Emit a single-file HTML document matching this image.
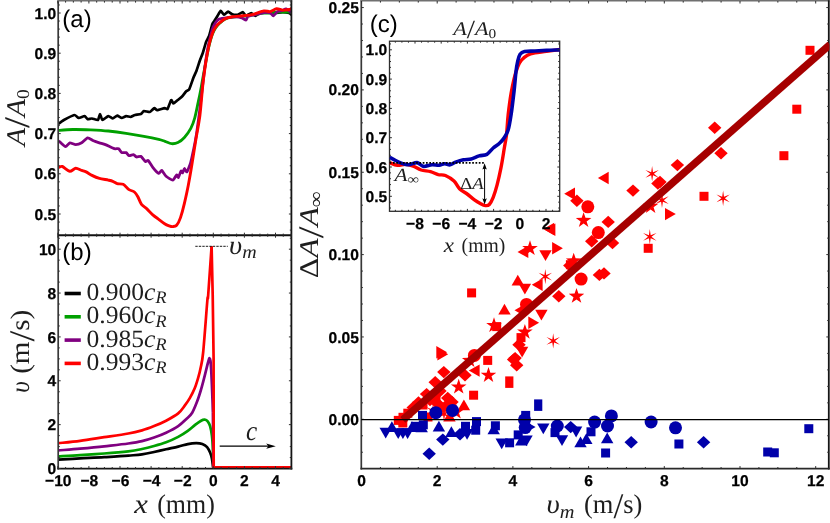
<!DOCTYPE html>
<html><head><meta charset="utf-8"><title>figure</title>
<style>html,body{margin:0;padding:0;background:#fff;}svg{display:block;}text{text-rendering:geometricPrecision;filter:grayscale(1);}</style>
</head><body>
<svg width="830" height="523" viewBox="0 0 830 523">
<rect x="0" y="0" width="830" height="523" fill="#fff"/>
<clipPath id="ca"><rect x="58.2" y="1.0" width="234.0" height="234.2"/></clipPath>
<g clip-path="url(#ca)">
<path d="M58.6 123.9C59.0 123.6 62.6 120.7 63.9 120.0C65.2 119.3 73.1 115.2 74.3 115.0C75.5 114.8 77.8 117.8 78.7 117.9C79.6 118.0 83.9 116.0 84.6 116.1C85.3 116.2 87.0 118.9 87.6 119.1C88.2 119.3 91.1 118.4 92.0 118.5C92.9 118.6 97.3 120.4 98.0 120.0C98.7 119.6 99.6 114.0 100.0 114.0C100.4 114.0 101.7 119.8 102.4 120.0C103.1 120.2 107.4 116.2 108.3 116.1C109.2 116.0 112.1 118.5 112.8 118.5C113.5 118.5 116.5 115.6 117.2 115.6C117.9 115.5 121.0 117.9 121.7 117.9C122.4 117.9 125.4 116.2 126.1 116.1C126.8 116.0 129.9 117.1 130.6 117.0C131.3 116.9 134.1 115.2 135.0 115.0C135.9 114.8 140.2 114.3 140.9 114.0C141.6 113.7 143.2 111.3 143.9 111.1C144.6 110.9 148.9 112.2 149.8 112.0C150.7 111.8 153.7 108.2 154.3 108.1C154.9 107.9 156.3 110.2 157.2 110.2C158.1 110.2 163.7 108.2 164.6 108.1C165.5 108.0 167.1 109.7 167.6 109.0C168.1 108.3 170.6 100.6 171.1 100.1C171.6 99.6 172.9 103.4 173.4 103.5C173.9 103.6 175.9 101.6 176.6 101.0C177.3 100.4 181.0 97.6 181.8 96.8C182.6 96.0 185.4 92.1 186.0 91.5C186.6 90.9 188.6 90.5 189.2 89.4C189.8 88.3 192.8 79.4 193.4 77.8C194.0 76.2 196.1 71.9 196.6 70.5C197.1 69.1 199.2 62.5 199.7 61.0C200.2 59.5 202.4 54.2 202.9 52.6C203.4 51.0 205.5 43.5 206.0 42.1C206.5 40.7 208.7 37.3 209.2 35.8C209.7 34.3 211.9 25.4 212.3 24.2C212.7 23.0 214.0 21.7 214.4 21.0C214.8 20.3 217.1 16.6 217.6 15.8C218.1 15.0 220.2 11.0 220.7 10.9C221.2 10.8 223.3 14.6 223.9 14.7C224.5 14.8 227.4 11.6 228.1 11.6C228.8 11.6 231.5 14.0 232.3 14.3C233.1 14.6 236.7 14.9 237.6 14.7C238.5 14.5 242.1 12.1 242.8 12.2C243.5 12.3 245.3 15.7 246.0 15.8C246.7 15.9 250.4 13.0 251.2 13.0C252.0 13.0 254.7 15.8 255.4 15.8C256.1 15.8 258.8 13.3 259.7 13.0C260.6 12.7 264.8 12.2 266.0 12.2C267.2 12.2 273.0 13.0 274.4 13.0C275.8 13.0 281.6 12.2 282.8 12.2C284.0 12.2 288.4 12.8 289.1 13.0C289.8 13.2 291.3 14.6 291.5 14.7" fill="none" stroke="#000" stroke-width="2.7" stroke-linejoin="round" stroke-linecap="butt" />
<path d="M58.6 130.4C61.0 130.2 67.5 129.6 72.8 129.5C78.1 129.4 84.7 129.6 90.6 129.8C96.5 130.1 102.4 130.4 108.3 131.0C114.2 131.6 120.2 132.4 126.1 133.3C132.0 134.2 138.5 135.3 143.9 136.3C149.3 137.3 155.2 138.5 158.7 139.3C162.2 140.1 162.9 140.6 165.0 141.3C167.1 142.0 169.3 143.5 171.5 143.7C173.7 143.9 175.8 143.6 177.9 142.6C180.1 141.6 182.2 139.9 184.4 137.5C186.6 135.1 189.1 131.6 190.8 128.4C192.5 125.2 193.5 122.4 194.7 118.1C195.9 113.8 197.2 106.9 198.1 102.6C199.0 98.2 199.5 96.4 200.3 92.0C201.2 87.6 202.2 81.3 203.2 76.0C204.2 70.7 205.2 65.2 206.2 60.0C207.2 54.8 208.3 48.8 209.4 44.5C210.5 40.2 211.4 36.8 212.5 34.0C213.6 31.2 214.5 29.4 215.7 27.6C216.9 25.8 218.4 24.4 219.9 23.0C221.4 21.6 222.8 20.2 224.9 19.2C227.0 18.2 229.3 17.7 232.3 17.2C235.3 16.7 239.3 16.6 242.8 16.2C246.3 15.8 249.8 15.3 253.3 14.8C256.8 14.3 261.1 13.5 263.9 13.2C266.7 12.9 268.1 13.2 270.2 13.0C272.3 12.8 274.4 12.3 276.5 12.2C278.6 12.1 280.7 12.2 282.8 12.2C284.9 12.2 287.7 12.0 289.1 12.0C290.6 12.0 291.1 12.3 291.5 12.4" fill="none" stroke="#00a000" stroke-width="2.8" stroke-linejoin="round" stroke-linecap="butt" />
<path d="M58.6 140.7C59.3 141.3 64.3 146.5 65.4 146.7C66.5 146.9 68.8 143.0 69.8 142.8C70.8 142.6 74.5 144.6 75.7 144.6C76.9 144.6 80.5 143.5 81.7 142.8C82.9 142.1 86.4 138.0 87.6 137.8C88.8 137.6 92.3 140.2 93.5 140.7C94.7 141.2 98.2 142.4 99.4 142.8C100.6 143.2 103.9 144.0 105.4 144.6C106.9 145.2 113.0 148.3 114.3 148.7C115.6 149.1 118.0 148.3 118.7 148.7C119.4 149.1 121.0 152.2 121.7 152.6C122.4 153.0 125.4 152.3 126.1 152.6C126.8 152.9 128.3 155.4 129.0 155.6C129.7 155.8 132.8 154.6 133.5 154.7C134.2 154.8 135.8 156.8 136.5 157.0C137.2 157.2 140.0 156.0 140.9 156.4C141.8 156.8 144.7 161.1 145.4 161.5C146.1 161.9 147.6 160.0 148.3 160.6C149.0 161.2 151.8 166.1 152.8 167.4C153.8 168.7 157.8 173.0 158.7 173.3C159.6 173.6 161.0 170.1 161.7 170.4C162.4 170.7 165.0 175.3 166.1 176.3C167.2 177.3 171.8 180.2 172.8 180.1C173.9 180.0 176.0 175.2 176.6 174.9C177.2 174.6 178.0 177.9 178.4 177.5C178.8 177.1 180.6 171.5 181.0 171.0C181.4 170.5 182.3 173.2 182.6 172.9C182.9 172.7 184.0 168.6 184.4 168.5C184.8 168.4 186.4 172.5 187.0 171.8C187.6 171.2 190.2 164.2 190.8 162.0C191.5 159.8 192.9 152.8 193.5 150.0C194.1 147.2 195.9 137.8 196.5 134.0C197.1 130.2 198.9 116.6 199.5 112.0C200.1 107.4 201.7 92.8 202.3 88.0C202.9 83.2 204.7 68.3 205.3 64.0C205.9 59.7 207.8 47.9 208.4 45.0C209.0 42.1 210.3 36.8 210.8 35.0C211.3 33.2 212.2 28.9 213.0 27.3C213.8 25.7 217.3 20.3 218.6 19.4C219.9 18.5 224.2 18.2 226.0 17.9C227.8 17.6 234.9 16.8 236.5 16.8C238.1 16.8 240.9 17.6 241.8 17.9C242.8 18.2 245.4 20.1 246.0 20.0C246.6 19.9 247.2 16.9 248.1 16.4C249.0 15.9 253.8 15.1 255.4 14.7C257.0 14.3 262.4 12.8 263.9 12.6C265.4 12.4 269.3 12.7 270.2 13.0C271.1 13.3 272.6 15.9 273.3 15.8C274.0 15.7 276.6 12.1 277.5 11.6C278.4 11.1 281.9 10.8 282.8 10.5C283.7 10.2 285.1 8.6 286.0 8.8C286.9 9.0 290.9 12.2 291.5 12.6" fill="none" stroke="#800080" stroke-width="2.8" stroke-linejoin="round" stroke-linecap="butt" />
<path d="M58.6 167.4C59.1 167.3 60.9 166.0 62.4 166.5C63.9 167.0 68.0 171.1 69.8 171.3C71.6 171.5 74.1 168.4 75.7 168.3C77.3 168.2 80.3 169.9 81.7 170.4C83.1 170.9 84.7 171.2 86.1 171.9C87.5 172.6 90.2 174.5 92.0 175.4C93.8 176.3 97.2 177.8 99.4 178.4C101.6 179.0 106.5 179.7 108.3 180.1C110.1 180.5 111.6 180.8 112.8 181.3C114.0 181.8 115.8 183.3 117.2 183.7C118.6 184.1 121.5 183.5 123.1 184.3C124.7 185.1 127.5 188.6 129.0 189.6C130.5 190.6 133.2 191.0 134.4 192.0C135.6 193.0 137.1 195.3 138.0 197.0C138.9 198.7 140.3 202.8 141.5 204.4C142.7 206.0 145.4 207.5 146.9 208.9C148.4 210.3 151.2 213.4 152.8 214.8C154.4 216.2 157.1 218.1 158.7 219.3C160.3 220.5 163.2 222.8 164.6 223.7C166.0 224.6 168.0 225.4 169.1 225.8C170.2 226.2 171.8 226.7 172.8 226.6C173.8 226.5 175.6 226.5 176.6 225.3C177.6 224.1 179.5 220.5 180.5 217.6C181.5 214.7 183.4 207.7 184.4 203.4C185.4 199.1 187.3 190.6 188.3 185.3C189.3 180.0 191.1 169.5 192.1 163.3C193.1 157.1 195.0 145.2 196.0 138.8C197.0 132.4 199.0 122.8 199.9 115.5C200.8 108.2 202.1 91.4 202.9 84.1C203.7 76.8 205.2 66.3 206.0 61.0C206.8 55.7 208.4 47.8 209.2 44.2C210.0 40.6 211.5 36.0 212.3 33.7C213.1 31.4 214.5 28.8 215.5 27.3C216.5 25.8 218.4 23.8 219.7 22.7C221.0 21.6 223.2 19.7 224.9 18.9C226.6 18.1 229.9 17.2 232.3 16.8C234.7 16.4 240.0 16.1 242.8 15.8C245.6 15.5 250.5 15.0 253.3 14.3C256.1 13.6 261.6 11.3 263.9 10.9C266.2 10.5 268.5 11.9 270.2 11.6C271.9 11.3 274.8 9.0 276.5 8.8C278.2 8.6 281.1 10.0 282.8 10.1C284.5 10.2 287.9 9.7 289.1 9.5C290.3 9.3 291.2 8.5 291.5 8.4" fill="none" stroke="#ff0000" stroke-width="2.9" stroke-linejoin="round" stroke-linecap="butt" />
</g>
<clipPath id="cb"><rect x="58.2" y="235.2" width="234.0" height="234.4"/></clipPath>
<g clip-path="url(#cb)">
<path d="M58.4 459.6C62.0 459.4 72.5 458.8 80.1 458.4C87.7 458.0 96.2 457.7 104.2 457.2C112.2 456.7 122.0 456.1 128.3 455.6C134.6 455.1 137.7 455.0 142.0 454.4C146.3 453.8 150.1 452.9 154.1 452.0C158.1 451.1 162.1 450.1 166.1 449.2C170.1 448.3 174.6 447.5 178.2 446.6C181.8 445.8 184.8 444.7 187.8 444.1C190.8 443.5 193.9 443.2 196.3 443.2C198.7 443.2 200.5 443.4 202.3 444.1C204.1 444.8 205.8 445.8 207.1 447.2C208.4 448.6 209.3 450.7 210.1 452.6C210.9 454.5 211.4 456.1 211.9 458.6C212.4 461.1 212.9 465.9 213.1 467.4" fill="none" stroke="#000" stroke-width="2.7" stroke-linejoin="round" stroke-linecap="butt" />
<polyline points="213.1,467.4 291.0,467.4" fill="none" stroke="#000" stroke-width="2.7" stroke-linejoin="round" stroke-linecap="butt" />
<path d="M58.4 456.4C62.0 456.2 72.5 455.7 80.1 455.2C87.7 454.7 96.2 454.1 104.2 453.5C112.2 452.9 122.0 452.1 128.3 451.4C134.6 450.6 137.7 449.9 142.0 449.0C146.3 448.1 150.1 447.1 154.1 446.0C158.1 444.9 162.1 443.8 166.1 442.3C170.1 440.8 174.6 438.8 178.2 436.9C181.8 435.0 185.0 432.9 187.8 430.9C190.6 428.9 192.9 426.6 195.1 424.9C197.3 423.2 199.5 421.6 201.1 420.7C202.7 419.8 203.6 419.6 204.7 419.7C205.8 419.8 206.8 420.2 207.7 421.3C208.6 422.4 209.4 423.7 210.1 426.1C210.8 428.5 211.4 431.7 211.9 435.7C212.4 439.7 212.7 444.9 212.9 450.2C213.2 455.5 213.3 464.5 213.4 467.4" fill="none" stroke="#00a000" stroke-width="2.7" stroke-linejoin="round" stroke-linecap="butt" />
<polyline points="213.4,467.4 291.0,467.4" fill="none" stroke="#00a000" stroke-width="2.7" stroke-linejoin="round" stroke-linecap="butt" />
<path d="M58.4 450.4C62.0 450.1 72.5 449.4 80.1 448.7C87.7 448.0 96.2 447.2 104.2 446.3C112.2 445.4 122.0 444.4 128.3 443.5C134.6 442.6 137.7 442.1 142.0 441.1C146.3 440.1 150.1 438.9 154.1 437.5C158.1 436.1 162.1 434.6 166.1 432.7C170.1 430.8 174.8 428.4 178.2 426.1C181.6 423.8 184.3 421.0 186.6 418.8C188.9 416.6 190.5 415.5 192.2 412.7C193.9 409.9 195.6 405.4 197.0 401.8C198.4 398.2 199.5 394.6 200.6 391.0C201.7 387.4 202.6 383.9 203.6 380.1C204.6 376.3 205.8 371.4 206.6 368.1C207.4 364.8 208.1 362.1 208.6 360.5C209.1 358.9 209.3 358.1 209.6 358.2C209.9 358.3 210.2 358.4 210.5 361.0C210.8 363.6 211.1 367.9 211.4 374.1C211.7 380.3 212.2 391.8 212.4 398.2C212.7 404.6 212.8 410.3 212.9 412.7" fill="none" stroke="#800080" stroke-width="2.7" stroke-linejoin="round" stroke-linecap="butt" />
<polyline points="212.9,412.7 213.5,467.4 291.0,467.4" fill="none" stroke="#800080" stroke-width="2.7" stroke-linejoin="round" stroke-linecap="butt" />
<path d="M58.4 443.2C62.0 442.8 72.5 441.8 80.1 440.8C87.7 439.8 96.2 438.4 104.2 437.2C112.2 436.0 122.0 434.6 128.3 433.5C134.6 432.4 137.7 431.6 142.0 430.4C146.3 429.2 150.1 427.7 154.1 426.1C158.1 424.5 162.1 422.8 166.1 420.7C170.1 418.6 175.1 415.9 178.2 413.4C181.3 410.8 183.0 407.9 184.9 405.4C186.8 402.9 188.2 401.0 189.8 398.2C191.4 395.4 193.2 392.0 194.6 388.6C196.0 385.2 197.2 381.1 198.2 377.7C199.2 374.3 199.8 372.4 200.6 368.1C201.4 363.8 202.1 363.2 203.2 352.0C204.3 340.8 206.5 310.5 207.3 301.0C208.1 291.5 207.5 304.1 208.2 295.0C208.9 285.9 211.0 254.4 211.6 246.3" fill="none" stroke="#ff0000" stroke-width="2.7" stroke-linejoin="round" stroke-linecap="butt" />
<polyline points="211.6,246.3 212.7,295.0 213.6,358.0 213.7,467.4 291.5,467.4" fill="none" stroke="#ff0000" stroke-width="2.7" stroke-linejoin="round" stroke-linecap="butt" stroke-miterlimit="10"/>
</g>
<line x1="58.20" y1="0.20" x2="58.20" y2="469.50" stroke="#383838" stroke-width="1.7" />
<line x1="57.40" y1="0.75" x2="292.20" y2="0.75" stroke="#707070" stroke-width="1.4" />
<line x1="291.40" y1="0.20" x2="291.40" y2="469.50" stroke="#151515" stroke-width="1.8" />
<line x1="57.40" y1="468.60" x2="292.30" y2="468.60" stroke="#151515" stroke-width="1.8" />
<line x1="58.20" y1="235.20" x2="291.40" y2="235.20" stroke="#111" stroke-width="1.9" />
<line x1="57.80" y1="1.00" x2="57.80" y2="3.50" stroke="#2e2e2e" stroke-width="1.0" />
<line x1="88.90" y1="1.00" x2="88.90" y2="3.50" stroke="#2e2e2e" stroke-width="1.0" />
<line x1="120.00" y1="1.00" x2="120.00" y2="3.50" stroke="#2e2e2e" stroke-width="1.0" />
<line x1="151.10" y1="1.00" x2="151.10" y2="3.50" stroke="#2e2e2e" stroke-width="1.0" />
<line x1="182.20" y1="1.00" x2="182.20" y2="3.50" stroke="#2e2e2e" stroke-width="1.0" />
<line x1="213.30" y1="1.00" x2="213.30" y2="3.50" stroke="#2e2e2e" stroke-width="1.0" />
<line x1="244.40" y1="1.00" x2="244.40" y2="3.50" stroke="#2e2e2e" stroke-width="1.0" />
<line x1="275.50" y1="1.00" x2="275.50" y2="3.50" stroke="#2e2e2e" stroke-width="1.0" />
<line x1="65.58" y1="1.00" x2="65.58" y2="2.60" stroke="#2e2e2e" stroke-width="1.0" />
<line x1="73.35" y1="1.00" x2="73.35" y2="2.60" stroke="#2e2e2e" stroke-width="1.0" />
<line x1="81.12" y1="1.00" x2="81.12" y2="2.60" stroke="#2e2e2e" stroke-width="1.0" />
<line x1="96.68" y1="1.00" x2="96.68" y2="2.60" stroke="#2e2e2e" stroke-width="1.0" />
<line x1="104.45" y1="1.00" x2="104.45" y2="2.60" stroke="#2e2e2e" stroke-width="1.0" />
<line x1="112.23" y1="1.00" x2="112.23" y2="2.60" stroke="#2e2e2e" stroke-width="1.0" />
<line x1="127.78" y1="1.00" x2="127.78" y2="2.60" stroke="#2e2e2e" stroke-width="1.0" />
<line x1="135.55" y1="1.00" x2="135.55" y2="2.60" stroke="#2e2e2e" stroke-width="1.0" />
<line x1="143.32" y1="1.00" x2="143.32" y2="2.60" stroke="#2e2e2e" stroke-width="1.0" />
<line x1="158.88" y1="1.00" x2="158.88" y2="2.60" stroke="#2e2e2e" stroke-width="1.0" />
<line x1="166.65" y1="1.00" x2="166.65" y2="2.60" stroke="#2e2e2e" stroke-width="1.0" />
<line x1="174.43" y1="1.00" x2="174.43" y2="2.60" stroke="#2e2e2e" stroke-width="1.0" />
<line x1="189.98" y1="1.00" x2="189.98" y2="2.60" stroke="#2e2e2e" stroke-width="1.0" />
<line x1="197.75" y1="1.00" x2="197.75" y2="2.60" stroke="#2e2e2e" stroke-width="1.0" />
<line x1="205.53" y1="1.00" x2="205.53" y2="2.60" stroke="#2e2e2e" stroke-width="1.0" />
<line x1="221.08" y1="1.00" x2="221.08" y2="2.60" stroke="#2e2e2e" stroke-width="1.0" />
<line x1="228.85" y1="1.00" x2="228.85" y2="2.60" stroke="#2e2e2e" stroke-width="1.0" />
<line x1="236.62" y1="1.00" x2="236.62" y2="2.60" stroke="#2e2e2e" stroke-width="1.0" />
<line x1="252.18" y1="1.00" x2="252.18" y2="2.60" stroke="#2e2e2e" stroke-width="1.0" />
<line x1="259.95" y1="1.00" x2="259.95" y2="2.60" stroke="#2e2e2e" stroke-width="1.0" />
<line x1="267.73" y1="1.00" x2="267.73" y2="2.60" stroke="#2e2e2e" stroke-width="1.0" />
<line x1="283.28" y1="1.00" x2="283.28" y2="2.60" stroke="#2e2e2e" stroke-width="1.0" />
<line x1="291.05" y1="1.00" x2="291.05" y2="2.60" stroke="#2e2e2e" stroke-width="1.0" />
<line x1="57.80" y1="235.20" x2="57.80" y2="232.70" stroke="#2e2e2e" stroke-width="1.0" />
<line x1="88.90" y1="235.20" x2="88.90" y2="232.70" stroke="#2e2e2e" stroke-width="1.0" />
<line x1="120.00" y1="235.20" x2="120.00" y2="232.70" stroke="#2e2e2e" stroke-width="1.0" />
<line x1="151.10" y1="235.20" x2="151.10" y2="232.70" stroke="#2e2e2e" stroke-width="1.0" />
<line x1="182.20" y1="235.20" x2="182.20" y2="232.70" stroke="#2e2e2e" stroke-width="1.0" />
<line x1="213.30" y1="235.20" x2="213.30" y2="232.70" stroke="#2e2e2e" stroke-width="1.0" />
<line x1="244.40" y1="235.20" x2="244.40" y2="232.70" stroke="#2e2e2e" stroke-width="1.0" />
<line x1="275.50" y1="235.20" x2="275.50" y2="232.70" stroke="#2e2e2e" stroke-width="1.0" />
<line x1="65.58" y1="235.20" x2="65.58" y2="233.60" stroke="#2e2e2e" stroke-width="1.0" />
<line x1="73.35" y1="235.20" x2="73.35" y2="233.60" stroke="#2e2e2e" stroke-width="1.0" />
<line x1="81.12" y1="235.20" x2="81.12" y2="233.60" stroke="#2e2e2e" stroke-width="1.0" />
<line x1="96.68" y1="235.20" x2="96.68" y2="233.60" stroke="#2e2e2e" stroke-width="1.0" />
<line x1="104.45" y1="235.20" x2="104.45" y2="233.60" stroke="#2e2e2e" stroke-width="1.0" />
<line x1="112.23" y1="235.20" x2="112.23" y2="233.60" stroke="#2e2e2e" stroke-width="1.0" />
<line x1="127.78" y1="235.20" x2="127.78" y2="233.60" stroke="#2e2e2e" stroke-width="1.0" />
<line x1="135.55" y1="235.20" x2="135.55" y2="233.60" stroke="#2e2e2e" stroke-width="1.0" />
<line x1="143.32" y1="235.20" x2="143.32" y2="233.60" stroke="#2e2e2e" stroke-width="1.0" />
<line x1="158.88" y1="235.20" x2="158.88" y2="233.60" stroke="#2e2e2e" stroke-width="1.0" />
<line x1="166.65" y1="235.20" x2="166.65" y2="233.60" stroke="#2e2e2e" stroke-width="1.0" />
<line x1="174.43" y1="235.20" x2="174.43" y2="233.60" stroke="#2e2e2e" stroke-width="1.0" />
<line x1="189.98" y1="235.20" x2="189.98" y2="233.60" stroke="#2e2e2e" stroke-width="1.0" />
<line x1="197.75" y1="235.20" x2="197.75" y2="233.60" stroke="#2e2e2e" stroke-width="1.0" />
<line x1="205.53" y1="235.20" x2="205.53" y2="233.60" stroke="#2e2e2e" stroke-width="1.0" />
<line x1="221.08" y1="235.20" x2="221.08" y2="233.60" stroke="#2e2e2e" stroke-width="1.0" />
<line x1="228.85" y1="235.20" x2="228.85" y2="233.60" stroke="#2e2e2e" stroke-width="1.0" />
<line x1="236.62" y1="235.20" x2="236.62" y2="233.60" stroke="#2e2e2e" stroke-width="1.0" />
<line x1="252.18" y1="235.20" x2="252.18" y2="233.60" stroke="#2e2e2e" stroke-width="1.0" />
<line x1="259.95" y1="235.20" x2="259.95" y2="233.60" stroke="#2e2e2e" stroke-width="1.0" />
<line x1="267.73" y1="235.20" x2="267.73" y2="233.60" stroke="#2e2e2e" stroke-width="1.0" />
<line x1="283.28" y1="235.20" x2="283.28" y2="233.60" stroke="#2e2e2e" stroke-width="1.0" />
<line x1="291.05" y1="235.20" x2="291.05" y2="233.60" stroke="#2e2e2e" stroke-width="1.0" />
<line x1="57.80" y1="235.20" x2="57.80" y2="237.70" stroke="#2e2e2e" stroke-width="1.0" />
<line x1="88.90" y1="235.20" x2="88.90" y2="237.70" stroke="#2e2e2e" stroke-width="1.0" />
<line x1="120.00" y1="235.20" x2="120.00" y2="237.70" stroke="#2e2e2e" stroke-width="1.0" />
<line x1="151.10" y1="235.20" x2="151.10" y2="237.70" stroke="#2e2e2e" stroke-width="1.0" />
<line x1="182.20" y1="235.20" x2="182.20" y2="237.70" stroke="#2e2e2e" stroke-width="1.0" />
<line x1="213.30" y1="235.20" x2="213.30" y2="237.70" stroke="#2e2e2e" stroke-width="1.0" />
<line x1="244.40" y1="235.20" x2="244.40" y2="237.70" stroke="#2e2e2e" stroke-width="1.0" />
<line x1="275.50" y1="235.20" x2="275.50" y2="237.70" stroke="#2e2e2e" stroke-width="1.0" />
<line x1="65.58" y1="235.20" x2="65.58" y2="236.80" stroke="#2e2e2e" stroke-width="1.0" />
<line x1="73.35" y1="235.20" x2="73.35" y2="236.80" stroke="#2e2e2e" stroke-width="1.0" />
<line x1="81.12" y1="235.20" x2="81.12" y2="236.80" stroke="#2e2e2e" stroke-width="1.0" />
<line x1="96.68" y1="235.20" x2="96.68" y2="236.80" stroke="#2e2e2e" stroke-width="1.0" />
<line x1="104.45" y1="235.20" x2="104.45" y2="236.80" stroke="#2e2e2e" stroke-width="1.0" />
<line x1="112.23" y1="235.20" x2="112.23" y2="236.80" stroke="#2e2e2e" stroke-width="1.0" />
<line x1="127.78" y1="235.20" x2="127.78" y2="236.80" stroke="#2e2e2e" stroke-width="1.0" />
<line x1="135.55" y1="235.20" x2="135.55" y2="236.80" stroke="#2e2e2e" stroke-width="1.0" />
<line x1="143.32" y1="235.20" x2="143.32" y2="236.80" stroke="#2e2e2e" stroke-width="1.0" />
<line x1="158.88" y1="235.20" x2="158.88" y2="236.80" stroke="#2e2e2e" stroke-width="1.0" />
<line x1="166.65" y1="235.20" x2="166.65" y2="236.80" stroke="#2e2e2e" stroke-width="1.0" />
<line x1="174.43" y1="235.20" x2="174.43" y2="236.80" stroke="#2e2e2e" stroke-width="1.0" />
<line x1="189.98" y1="235.20" x2="189.98" y2="236.80" stroke="#2e2e2e" stroke-width="1.0" />
<line x1="197.75" y1="235.20" x2="197.75" y2="236.80" stroke="#2e2e2e" stroke-width="1.0" />
<line x1="205.53" y1="235.20" x2="205.53" y2="236.80" stroke="#2e2e2e" stroke-width="1.0" />
<line x1="221.08" y1="235.20" x2="221.08" y2="236.80" stroke="#2e2e2e" stroke-width="1.0" />
<line x1="228.85" y1="235.20" x2="228.85" y2="236.80" stroke="#2e2e2e" stroke-width="1.0" />
<line x1="236.62" y1="235.20" x2="236.62" y2="236.80" stroke="#2e2e2e" stroke-width="1.0" />
<line x1="252.18" y1="235.20" x2="252.18" y2="236.80" stroke="#2e2e2e" stroke-width="1.0" />
<line x1="259.95" y1="235.20" x2="259.95" y2="236.80" stroke="#2e2e2e" stroke-width="1.0" />
<line x1="267.73" y1="235.20" x2="267.73" y2="236.80" stroke="#2e2e2e" stroke-width="1.0" />
<line x1="283.28" y1="235.20" x2="283.28" y2="236.80" stroke="#2e2e2e" stroke-width="1.0" />
<line x1="291.05" y1="235.20" x2="291.05" y2="236.80" stroke="#2e2e2e" stroke-width="1.0" />
<line x1="57.80" y1="468.60" x2="57.80" y2="466.10" stroke="#2e2e2e" stroke-width="1.0" />
<line x1="88.90" y1="468.60" x2="88.90" y2="466.10" stroke="#2e2e2e" stroke-width="1.0" />
<line x1="120.00" y1="468.60" x2="120.00" y2="466.10" stroke="#2e2e2e" stroke-width="1.0" />
<line x1="151.10" y1="468.60" x2="151.10" y2="466.10" stroke="#2e2e2e" stroke-width="1.0" />
<line x1="182.20" y1="468.60" x2="182.20" y2="466.10" stroke="#2e2e2e" stroke-width="1.0" />
<line x1="213.30" y1="468.60" x2="213.30" y2="466.10" stroke="#2e2e2e" stroke-width="1.0" />
<line x1="244.40" y1="468.60" x2="244.40" y2="466.10" stroke="#2e2e2e" stroke-width="1.0" />
<line x1="275.50" y1="468.60" x2="275.50" y2="466.10" stroke="#2e2e2e" stroke-width="1.0" />
<line x1="65.58" y1="468.60" x2="65.58" y2="467.00" stroke="#2e2e2e" stroke-width="1.0" />
<line x1="73.35" y1="468.60" x2="73.35" y2="467.00" stroke="#2e2e2e" stroke-width="1.0" />
<line x1="81.12" y1="468.60" x2="81.12" y2="467.00" stroke="#2e2e2e" stroke-width="1.0" />
<line x1="96.68" y1="468.60" x2="96.68" y2="467.00" stroke="#2e2e2e" stroke-width="1.0" />
<line x1="104.45" y1="468.60" x2="104.45" y2="467.00" stroke="#2e2e2e" stroke-width="1.0" />
<line x1="112.23" y1="468.60" x2="112.23" y2="467.00" stroke="#2e2e2e" stroke-width="1.0" />
<line x1="127.78" y1="468.60" x2="127.78" y2="467.00" stroke="#2e2e2e" stroke-width="1.0" />
<line x1="135.55" y1="468.60" x2="135.55" y2="467.00" stroke="#2e2e2e" stroke-width="1.0" />
<line x1="143.32" y1="468.60" x2="143.32" y2="467.00" stroke="#2e2e2e" stroke-width="1.0" />
<line x1="158.88" y1="468.60" x2="158.88" y2="467.00" stroke="#2e2e2e" stroke-width="1.0" />
<line x1="166.65" y1="468.60" x2="166.65" y2="467.00" stroke="#2e2e2e" stroke-width="1.0" />
<line x1="174.43" y1="468.60" x2="174.43" y2="467.00" stroke="#2e2e2e" stroke-width="1.0" />
<line x1="189.98" y1="468.60" x2="189.98" y2="467.00" stroke="#2e2e2e" stroke-width="1.0" />
<line x1="197.75" y1="468.60" x2="197.75" y2="467.00" stroke="#2e2e2e" stroke-width="1.0" />
<line x1="205.53" y1="468.60" x2="205.53" y2="467.00" stroke="#2e2e2e" stroke-width="1.0" />
<line x1="221.08" y1="468.60" x2="221.08" y2="467.00" stroke="#2e2e2e" stroke-width="1.0" />
<line x1="228.85" y1="468.60" x2="228.85" y2="467.00" stroke="#2e2e2e" stroke-width="1.0" />
<line x1="236.62" y1="468.60" x2="236.62" y2="467.00" stroke="#2e2e2e" stroke-width="1.0" />
<line x1="252.18" y1="468.60" x2="252.18" y2="467.00" stroke="#2e2e2e" stroke-width="1.0" />
<line x1="259.95" y1="468.60" x2="259.95" y2="467.00" stroke="#2e2e2e" stroke-width="1.0" />
<line x1="267.73" y1="468.60" x2="267.73" y2="467.00" stroke="#2e2e2e" stroke-width="1.0" />
<line x1="283.28" y1="468.60" x2="283.28" y2="467.00" stroke="#2e2e2e" stroke-width="1.0" />
<line x1="291.05" y1="468.60" x2="291.05" y2="467.00" stroke="#2e2e2e" stroke-width="1.0" />
<line x1="58.20" y1="214.00" x2="60.70" y2="214.00" stroke="#2e2e2e" stroke-width="1.0" />
<line x1="58.20" y1="173.80" x2="60.70" y2="173.80" stroke="#2e2e2e" stroke-width="1.0" />
<line x1="58.20" y1="133.60" x2="60.70" y2="133.60" stroke="#2e2e2e" stroke-width="1.0" />
<line x1="58.20" y1="93.40" x2="60.70" y2="93.40" stroke="#2e2e2e" stroke-width="1.0" />
<line x1="58.20" y1="53.20" x2="60.70" y2="53.20" stroke="#2e2e2e" stroke-width="1.0" />
<line x1="58.20" y1="13.00" x2="60.70" y2="13.00" stroke="#2e2e2e" stroke-width="1.0" />
<line x1="58.20" y1="230.08" x2="59.80" y2="230.08" stroke="#2e2e2e" stroke-width="1.0" />
<line x1="58.20" y1="222.04" x2="59.80" y2="222.04" stroke="#2e2e2e" stroke-width="1.0" />
<line x1="58.20" y1="205.96" x2="59.80" y2="205.96" stroke="#2e2e2e" stroke-width="1.0" />
<line x1="58.20" y1="197.92" x2="59.80" y2="197.92" stroke="#2e2e2e" stroke-width="1.0" />
<line x1="58.20" y1="189.88" x2="59.80" y2="189.88" stroke="#2e2e2e" stroke-width="1.0" />
<line x1="58.20" y1="181.84" x2="59.80" y2="181.84" stroke="#2e2e2e" stroke-width="1.0" />
<line x1="58.20" y1="165.76" x2="59.80" y2="165.76" stroke="#2e2e2e" stroke-width="1.0" />
<line x1="58.20" y1="157.72" x2="59.80" y2="157.72" stroke="#2e2e2e" stroke-width="1.0" />
<line x1="58.20" y1="149.68" x2="59.80" y2="149.68" stroke="#2e2e2e" stroke-width="1.0" />
<line x1="58.20" y1="141.64" x2="59.80" y2="141.64" stroke="#2e2e2e" stroke-width="1.0" />
<line x1="58.20" y1="125.56" x2="59.80" y2="125.56" stroke="#2e2e2e" stroke-width="1.0" />
<line x1="58.20" y1="117.52" x2="59.80" y2="117.52" stroke="#2e2e2e" stroke-width="1.0" />
<line x1="58.20" y1="109.48" x2="59.80" y2="109.48" stroke="#2e2e2e" stroke-width="1.0" />
<line x1="58.20" y1="101.44" x2="59.80" y2="101.44" stroke="#2e2e2e" stroke-width="1.0" />
<line x1="58.20" y1="85.36" x2="59.80" y2="85.36" stroke="#2e2e2e" stroke-width="1.0" />
<line x1="58.20" y1="77.32" x2="59.80" y2="77.32" stroke="#2e2e2e" stroke-width="1.0" />
<line x1="58.20" y1="69.28" x2="59.80" y2="69.28" stroke="#2e2e2e" stroke-width="1.0" />
<line x1="58.20" y1="61.24" x2="59.80" y2="61.24" stroke="#2e2e2e" stroke-width="1.0" />
<line x1="58.20" y1="45.16" x2="59.80" y2="45.16" stroke="#2e2e2e" stroke-width="1.0" />
<line x1="58.20" y1="37.12" x2="59.80" y2="37.12" stroke="#2e2e2e" stroke-width="1.0" />
<line x1="58.20" y1="29.08" x2="59.80" y2="29.08" stroke="#2e2e2e" stroke-width="1.0" />
<line x1="58.20" y1="21.04" x2="59.80" y2="21.04" stroke="#2e2e2e" stroke-width="1.0" />
<line x1="58.20" y1="4.96" x2="59.80" y2="4.96" stroke="#2e2e2e" stroke-width="1.0" />
<line x1="291.40" y1="214.00" x2="288.90" y2="214.00" stroke="#2e2e2e" stroke-width="1.0" />
<line x1="291.40" y1="173.80" x2="288.90" y2="173.80" stroke="#2e2e2e" stroke-width="1.0" />
<line x1="291.40" y1="133.60" x2="288.90" y2="133.60" stroke="#2e2e2e" stroke-width="1.0" />
<line x1="291.40" y1="93.40" x2="288.90" y2="93.40" stroke="#2e2e2e" stroke-width="1.0" />
<line x1="291.40" y1="53.20" x2="288.90" y2="53.20" stroke="#2e2e2e" stroke-width="1.0" />
<line x1="291.40" y1="13.00" x2="288.90" y2="13.00" stroke="#2e2e2e" stroke-width="1.0" />
<line x1="291.40" y1="230.08" x2="289.80" y2="230.08" stroke="#2e2e2e" stroke-width="1.0" />
<line x1="291.40" y1="222.04" x2="289.80" y2="222.04" stroke="#2e2e2e" stroke-width="1.0" />
<line x1="291.40" y1="205.96" x2="289.80" y2="205.96" stroke="#2e2e2e" stroke-width="1.0" />
<line x1="291.40" y1="197.92" x2="289.80" y2="197.92" stroke="#2e2e2e" stroke-width="1.0" />
<line x1="291.40" y1="189.88" x2="289.80" y2="189.88" stroke="#2e2e2e" stroke-width="1.0" />
<line x1="291.40" y1="181.84" x2="289.80" y2="181.84" stroke="#2e2e2e" stroke-width="1.0" />
<line x1="291.40" y1="165.76" x2="289.80" y2="165.76" stroke="#2e2e2e" stroke-width="1.0" />
<line x1="291.40" y1="157.72" x2="289.80" y2="157.72" stroke="#2e2e2e" stroke-width="1.0" />
<line x1="291.40" y1="149.68" x2="289.80" y2="149.68" stroke="#2e2e2e" stroke-width="1.0" />
<line x1="291.40" y1="141.64" x2="289.80" y2="141.64" stroke="#2e2e2e" stroke-width="1.0" />
<line x1="291.40" y1="125.56" x2="289.80" y2="125.56" stroke="#2e2e2e" stroke-width="1.0" />
<line x1="291.40" y1="117.52" x2="289.80" y2="117.52" stroke="#2e2e2e" stroke-width="1.0" />
<line x1="291.40" y1="109.48" x2="289.80" y2="109.48" stroke="#2e2e2e" stroke-width="1.0" />
<line x1="291.40" y1="101.44" x2="289.80" y2="101.44" stroke="#2e2e2e" stroke-width="1.0" />
<line x1="291.40" y1="85.36" x2="289.80" y2="85.36" stroke="#2e2e2e" stroke-width="1.0" />
<line x1="291.40" y1="77.32" x2="289.80" y2="77.32" stroke="#2e2e2e" stroke-width="1.0" />
<line x1="291.40" y1="69.28" x2="289.80" y2="69.28" stroke="#2e2e2e" stroke-width="1.0" />
<line x1="291.40" y1="61.24" x2="289.80" y2="61.24" stroke="#2e2e2e" stroke-width="1.0" />
<line x1="291.40" y1="45.16" x2="289.80" y2="45.16" stroke="#2e2e2e" stroke-width="1.0" />
<line x1="291.40" y1="37.12" x2="289.80" y2="37.12" stroke="#2e2e2e" stroke-width="1.0" />
<line x1="291.40" y1="29.08" x2="289.80" y2="29.08" stroke="#2e2e2e" stroke-width="1.0" />
<line x1="291.40" y1="21.04" x2="289.80" y2="21.04" stroke="#2e2e2e" stroke-width="1.0" />
<line x1="291.40" y1="4.96" x2="289.80" y2="4.96" stroke="#2e2e2e" stroke-width="1.0" />
<line x1="58.20" y1="468.50" x2="60.70" y2="468.50" stroke="#2e2e2e" stroke-width="1.0" />
<line x1="58.20" y1="424.64" x2="60.70" y2="424.64" stroke="#2e2e2e" stroke-width="1.0" />
<line x1="58.20" y1="380.78" x2="60.70" y2="380.78" stroke="#2e2e2e" stroke-width="1.0" />
<line x1="58.20" y1="336.92" x2="60.70" y2="336.92" stroke="#2e2e2e" stroke-width="1.0" />
<line x1="58.20" y1="293.06" x2="60.70" y2="293.06" stroke="#2e2e2e" stroke-width="1.0" />
<line x1="58.20" y1="249.20" x2="60.70" y2="249.20" stroke="#2e2e2e" stroke-width="1.0" />
<line x1="58.20" y1="457.54" x2="59.80" y2="457.54" stroke="#2e2e2e" stroke-width="1.0" />
<line x1="58.20" y1="446.57" x2="59.80" y2="446.57" stroke="#2e2e2e" stroke-width="1.0" />
<line x1="58.20" y1="435.61" x2="59.80" y2="435.61" stroke="#2e2e2e" stroke-width="1.0" />
<line x1="58.20" y1="413.68" x2="59.80" y2="413.68" stroke="#2e2e2e" stroke-width="1.0" />
<line x1="58.20" y1="402.71" x2="59.80" y2="402.71" stroke="#2e2e2e" stroke-width="1.0" />
<line x1="58.20" y1="391.75" x2="59.80" y2="391.75" stroke="#2e2e2e" stroke-width="1.0" />
<line x1="58.20" y1="369.81" x2="59.80" y2="369.81" stroke="#2e2e2e" stroke-width="1.0" />
<line x1="58.20" y1="358.85" x2="59.80" y2="358.85" stroke="#2e2e2e" stroke-width="1.0" />
<line x1="58.20" y1="347.88" x2="59.80" y2="347.88" stroke="#2e2e2e" stroke-width="1.0" />
<line x1="58.20" y1="325.96" x2="59.80" y2="325.96" stroke="#2e2e2e" stroke-width="1.0" />
<line x1="58.20" y1="314.99" x2="59.80" y2="314.99" stroke="#2e2e2e" stroke-width="1.0" />
<line x1="58.20" y1="304.02" x2="59.80" y2="304.02" stroke="#2e2e2e" stroke-width="1.0" />
<line x1="58.20" y1="282.10" x2="59.80" y2="282.10" stroke="#2e2e2e" stroke-width="1.0" />
<line x1="58.20" y1="271.13" x2="59.80" y2="271.13" stroke="#2e2e2e" stroke-width="1.0" />
<line x1="58.20" y1="260.16" x2="59.80" y2="260.16" stroke="#2e2e2e" stroke-width="1.0" />
<line x1="58.20" y1="238.24" x2="59.80" y2="238.24" stroke="#2e2e2e" stroke-width="1.0" />
<line x1="291.40" y1="468.50" x2="288.90" y2="468.50" stroke="#2e2e2e" stroke-width="1.0" />
<line x1="291.40" y1="424.64" x2="288.90" y2="424.64" stroke="#2e2e2e" stroke-width="1.0" />
<line x1="291.40" y1="380.78" x2="288.90" y2="380.78" stroke="#2e2e2e" stroke-width="1.0" />
<line x1="291.40" y1="336.92" x2="288.90" y2="336.92" stroke="#2e2e2e" stroke-width="1.0" />
<line x1="291.40" y1="293.06" x2="288.90" y2="293.06" stroke="#2e2e2e" stroke-width="1.0" />
<line x1="291.40" y1="249.20" x2="288.90" y2="249.20" stroke="#2e2e2e" stroke-width="1.0" />
<line x1="291.40" y1="457.54" x2="289.80" y2="457.54" stroke="#2e2e2e" stroke-width="1.0" />
<line x1="291.40" y1="446.57" x2="289.80" y2="446.57" stroke="#2e2e2e" stroke-width="1.0" />
<line x1="291.40" y1="435.61" x2="289.80" y2="435.61" stroke="#2e2e2e" stroke-width="1.0" />
<line x1="291.40" y1="413.68" x2="289.80" y2="413.68" stroke="#2e2e2e" stroke-width="1.0" />
<line x1="291.40" y1="402.71" x2="289.80" y2="402.71" stroke="#2e2e2e" stroke-width="1.0" />
<line x1="291.40" y1="391.75" x2="289.80" y2="391.75" stroke="#2e2e2e" stroke-width="1.0" />
<line x1="291.40" y1="369.81" x2="289.80" y2="369.81" stroke="#2e2e2e" stroke-width="1.0" />
<line x1="291.40" y1="358.85" x2="289.80" y2="358.85" stroke="#2e2e2e" stroke-width="1.0" />
<line x1="291.40" y1="347.88" x2="289.80" y2="347.88" stroke="#2e2e2e" stroke-width="1.0" />
<line x1="291.40" y1="325.96" x2="289.80" y2="325.96" stroke="#2e2e2e" stroke-width="1.0" />
<line x1="291.40" y1="314.99" x2="289.80" y2="314.99" stroke="#2e2e2e" stroke-width="1.0" />
<line x1="291.40" y1="304.02" x2="289.80" y2="304.02" stroke="#2e2e2e" stroke-width="1.0" />
<line x1="291.40" y1="282.10" x2="289.80" y2="282.10" stroke="#2e2e2e" stroke-width="1.0" />
<line x1="291.40" y1="271.13" x2="289.80" y2="271.13" stroke="#2e2e2e" stroke-width="1.0" />
<line x1="291.40" y1="260.16" x2="289.80" y2="260.16" stroke="#2e2e2e" stroke-width="1.0" />
<line x1="291.40" y1="238.24" x2="289.80" y2="238.24" stroke="#2e2e2e" stroke-width="1.0" />
<line x1="361.30" y1="0.20" x2="361.30" y2="469.50" stroke="#383838" stroke-width="1.7" />
<line x1="360.50" y1="0.75" x2="829.60" y2="0.75" stroke="#707070" stroke-width="1.4" />
<line x1="828.80" y1="0.20" x2="828.80" y2="469.50" stroke="#151515" stroke-width="1.8" />
<line x1="360.50" y1="468.60" x2="829.70" y2="468.60" stroke="#2a2a2a" stroke-width="1.9" />
<line x1="361.50" y1="1.00" x2="361.50" y2="3.50" stroke="#2e2e2e" stroke-width="1.0" />
<line x1="437.20" y1="1.00" x2="437.20" y2="3.50" stroke="#2e2e2e" stroke-width="1.0" />
<line x1="512.90" y1="1.00" x2="512.90" y2="3.50" stroke="#2e2e2e" stroke-width="1.0" />
<line x1="588.60" y1="1.00" x2="588.60" y2="3.50" stroke="#2e2e2e" stroke-width="1.0" />
<line x1="664.30" y1="1.00" x2="664.30" y2="3.50" stroke="#2e2e2e" stroke-width="1.0" />
<line x1="740.00" y1="1.00" x2="740.00" y2="3.50" stroke="#2e2e2e" stroke-width="1.0" />
<line x1="815.70" y1="1.00" x2="815.70" y2="3.50" stroke="#2e2e2e" stroke-width="1.0" />
<line x1="380.43" y1="1.00" x2="380.43" y2="2.60" stroke="#2e2e2e" stroke-width="1.0" />
<line x1="399.35" y1="1.00" x2="399.35" y2="2.60" stroke="#2e2e2e" stroke-width="1.0" />
<line x1="418.27" y1="1.00" x2="418.27" y2="2.60" stroke="#2e2e2e" stroke-width="1.0" />
<line x1="456.12" y1="1.00" x2="456.12" y2="2.60" stroke="#2e2e2e" stroke-width="1.0" />
<line x1="475.05" y1="1.00" x2="475.05" y2="2.60" stroke="#2e2e2e" stroke-width="1.0" />
<line x1="493.98" y1="1.00" x2="493.98" y2="2.60" stroke="#2e2e2e" stroke-width="1.0" />
<line x1="531.83" y1="1.00" x2="531.83" y2="2.60" stroke="#2e2e2e" stroke-width="1.0" />
<line x1="550.75" y1="1.00" x2="550.75" y2="2.60" stroke="#2e2e2e" stroke-width="1.0" />
<line x1="569.67" y1="1.00" x2="569.67" y2="2.60" stroke="#2e2e2e" stroke-width="1.0" />
<line x1="607.52" y1="1.00" x2="607.52" y2="2.60" stroke="#2e2e2e" stroke-width="1.0" />
<line x1="626.45" y1="1.00" x2="626.45" y2="2.60" stroke="#2e2e2e" stroke-width="1.0" />
<line x1="645.38" y1="1.00" x2="645.38" y2="2.60" stroke="#2e2e2e" stroke-width="1.0" />
<line x1="683.23" y1="1.00" x2="683.23" y2="2.60" stroke="#2e2e2e" stroke-width="1.0" />
<line x1="702.15" y1="1.00" x2="702.15" y2="2.60" stroke="#2e2e2e" stroke-width="1.0" />
<line x1="721.08" y1="1.00" x2="721.08" y2="2.60" stroke="#2e2e2e" stroke-width="1.0" />
<line x1="758.92" y1="1.00" x2="758.92" y2="2.60" stroke="#2e2e2e" stroke-width="1.0" />
<line x1="777.85" y1="1.00" x2="777.85" y2="2.60" stroke="#2e2e2e" stroke-width="1.0" />
<line x1="796.78" y1="1.00" x2="796.78" y2="2.60" stroke="#2e2e2e" stroke-width="1.0" />
<line x1="361.50" y1="468.60" x2="361.50" y2="466.10" stroke="#2e2e2e" stroke-width="1.0" />
<line x1="437.20" y1="468.60" x2="437.20" y2="466.10" stroke="#2e2e2e" stroke-width="1.0" />
<line x1="512.90" y1="468.60" x2="512.90" y2="466.10" stroke="#2e2e2e" stroke-width="1.0" />
<line x1="588.60" y1="468.60" x2="588.60" y2="466.10" stroke="#2e2e2e" stroke-width="1.0" />
<line x1="664.30" y1="468.60" x2="664.30" y2="466.10" stroke="#2e2e2e" stroke-width="1.0" />
<line x1="740.00" y1="468.60" x2="740.00" y2="466.10" stroke="#2e2e2e" stroke-width="1.0" />
<line x1="815.70" y1="468.60" x2="815.70" y2="466.10" stroke="#2e2e2e" stroke-width="1.0" />
<line x1="380.43" y1="468.60" x2="380.43" y2="467.00" stroke="#2e2e2e" stroke-width="1.0" />
<line x1="399.35" y1="468.60" x2="399.35" y2="467.00" stroke="#2e2e2e" stroke-width="1.0" />
<line x1="418.27" y1="468.60" x2="418.27" y2="467.00" stroke="#2e2e2e" stroke-width="1.0" />
<line x1="456.12" y1="468.60" x2="456.12" y2="467.00" stroke="#2e2e2e" stroke-width="1.0" />
<line x1="475.05" y1="468.60" x2="475.05" y2="467.00" stroke="#2e2e2e" stroke-width="1.0" />
<line x1="493.98" y1="468.60" x2="493.98" y2="467.00" stroke="#2e2e2e" stroke-width="1.0" />
<line x1="531.83" y1="468.60" x2="531.83" y2="467.00" stroke="#2e2e2e" stroke-width="1.0" />
<line x1="550.75" y1="468.60" x2="550.75" y2="467.00" stroke="#2e2e2e" stroke-width="1.0" />
<line x1="569.67" y1="468.60" x2="569.67" y2="467.00" stroke="#2e2e2e" stroke-width="1.0" />
<line x1="607.52" y1="468.60" x2="607.52" y2="467.00" stroke="#2e2e2e" stroke-width="1.0" />
<line x1="626.45" y1="468.60" x2="626.45" y2="467.00" stroke="#2e2e2e" stroke-width="1.0" />
<line x1="645.38" y1="468.60" x2="645.38" y2="467.00" stroke="#2e2e2e" stroke-width="1.0" />
<line x1="683.23" y1="468.60" x2="683.23" y2="467.00" stroke="#2e2e2e" stroke-width="1.0" />
<line x1="702.15" y1="468.60" x2="702.15" y2="467.00" stroke="#2e2e2e" stroke-width="1.0" />
<line x1="721.08" y1="468.60" x2="721.08" y2="467.00" stroke="#2e2e2e" stroke-width="1.0" />
<line x1="758.92" y1="468.60" x2="758.92" y2="467.00" stroke="#2e2e2e" stroke-width="1.0" />
<line x1="777.85" y1="468.60" x2="777.85" y2="467.00" stroke="#2e2e2e" stroke-width="1.0" />
<line x1="796.78" y1="468.60" x2="796.78" y2="467.00" stroke="#2e2e2e" stroke-width="1.0" />
<line x1="361.30" y1="419.30" x2="363.80" y2="419.30" stroke="#2e2e2e" stroke-width="1.0" />
<line x1="361.30" y1="336.95" x2="363.80" y2="336.95" stroke="#2e2e2e" stroke-width="1.0" />
<line x1="361.30" y1="254.60" x2="363.80" y2="254.60" stroke="#2e2e2e" stroke-width="1.0" />
<line x1="361.30" y1="172.25" x2="363.80" y2="172.25" stroke="#2e2e2e" stroke-width="1.0" />
<line x1="361.30" y1="89.90" x2="363.80" y2="89.90" stroke="#2e2e2e" stroke-width="1.0" />
<line x1="361.30" y1="7.55" x2="363.80" y2="7.55" stroke="#2e2e2e" stroke-width="1.0" />
<line x1="361.30" y1="452.24" x2="362.90" y2="452.24" stroke="#2e2e2e" stroke-width="1.0" />
<line x1="361.30" y1="435.77" x2="362.90" y2="435.77" stroke="#2e2e2e" stroke-width="1.0" />
<line x1="361.30" y1="402.83" x2="362.90" y2="402.83" stroke="#2e2e2e" stroke-width="1.0" />
<line x1="361.30" y1="386.36" x2="362.90" y2="386.36" stroke="#2e2e2e" stroke-width="1.0" />
<line x1="361.30" y1="369.89" x2="362.90" y2="369.89" stroke="#2e2e2e" stroke-width="1.0" />
<line x1="361.30" y1="353.42" x2="362.90" y2="353.42" stroke="#2e2e2e" stroke-width="1.0" />
<line x1="361.30" y1="320.48" x2="362.90" y2="320.48" stroke="#2e2e2e" stroke-width="1.0" />
<line x1="361.30" y1="304.01" x2="362.90" y2="304.01" stroke="#2e2e2e" stroke-width="1.0" />
<line x1="361.30" y1="287.54" x2="362.90" y2="287.54" stroke="#2e2e2e" stroke-width="1.0" />
<line x1="361.30" y1="271.07" x2="362.90" y2="271.07" stroke="#2e2e2e" stroke-width="1.0" />
<line x1="361.30" y1="238.13" x2="362.90" y2="238.13" stroke="#2e2e2e" stroke-width="1.0" />
<line x1="361.30" y1="221.66" x2="362.90" y2="221.66" stroke="#2e2e2e" stroke-width="1.0" />
<line x1="361.30" y1="205.19" x2="362.90" y2="205.19" stroke="#2e2e2e" stroke-width="1.0" />
<line x1="361.30" y1="188.72" x2="362.90" y2="188.72" stroke="#2e2e2e" stroke-width="1.0" />
<line x1="361.30" y1="155.78" x2="362.90" y2="155.78" stroke="#2e2e2e" stroke-width="1.0" />
<line x1="361.30" y1="139.31" x2="362.90" y2="139.31" stroke="#2e2e2e" stroke-width="1.0" />
<line x1="361.30" y1="122.84" x2="362.90" y2="122.84" stroke="#2e2e2e" stroke-width="1.0" />
<line x1="361.30" y1="106.37" x2="362.90" y2="106.37" stroke="#2e2e2e" stroke-width="1.0" />
<line x1="361.30" y1="73.43" x2="362.90" y2="73.43" stroke="#2e2e2e" stroke-width="1.0" />
<line x1="361.30" y1="56.96" x2="362.90" y2="56.96" stroke="#2e2e2e" stroke-width="1.0" />
<line x1="361.30" y1="40.49" x2="362.90" y2="40.49" stroke="#2e2e2e" stroke-width="1.0" />
<line x1="361.30" y1="24.02" x2="362.90" y2="24.02" stroke="#2e2e2e" stroke-width="1.0" />
<line x1="828.80" y1="419.30" x2="826.30" y2="419.30" stroke="#2e2e2e" stroke-width="1.0" />
<line x1="828.80" y1="336.95" x2="826.30" y2="336.95" stroke="#2e2e2e" stroke-width="1.0" />
<line x1="828.80" y1="254.60" x2="826.30" y2="254.60" stroke="#2e2e2e" stroke-width="1.0" />
<line x1="828.80" y1="172.25" x2="826.30" y2="172.25" stroke="#2e2e2e" stroke-width="1.0" />
<line x1="828.80" y1="89.90" x2="826.30" y2="89.90" stroke="#2e2e2e" stroke-width="1.0" />
<line x1="828.80" y1="7.55" x2="826.30" y2="7.55" stroke="#2e2e2e" stroke-width="1.0" />
<line x1="828.80" y1="452.24" x2="827.20" y2="452.24" stroke="#2e2e2e" stroke-width="1.0" />
<line x1="828.80" y1="435.77" x2="827.20" y2="435.77" stroke="#2e2e2e" stroke-width="1.0" />
<line x1="828.80" y1="402.83" x2="827.20" y2="402.83" stroke="#2e2e2e" stroke-width="1.0" />
<line x1="828.80" y1="386.36" x2="827.20" y2="386.36" stroke="#2e2e2e" stroke-width="1.0" />
<line x1="828.80" y1="369.89" x2="827.20" y2="369.89" stroke="#2e2e2e" stroke-width="1.0" />
<line x1="828.80" y1="353.42" x2="827.20" y2="353.42" stroke="#2e2e2e" stroke-width="1.0" />
<line x1="828.80" y1="320.48" x2="827.20" y2="320.48" stroke="#2e2e2e" stroke-width="1.0" />
<line x1="828.80" y1="304.01" x2="827.20" y2="304.01" stroke="#2e2e2e" stroke-width="1.0" />
<line x1="828.80" y1="287.54" x2="827.20" y2="287.54" stroke="#2e2e2e" stroke-width="1.0" />
<line x1="828.80" y1="271.07" x2="827.20" y2="271.07" stroke="#2e2e2e" stroke-width="1.0" />
<line x1="828.80" y1="238.13" x2="827.20" y2="238.13" stroke="#2e2e2e" stroke-width="1.0" />
<line x1="828.80" y1="221.66" x2="827.20" y2="221.66" stroke="#2e2e2e" stroke-width="1.0" />
<line x1="828.80" y1="205.19" x2="827.20" y2="205.19" stroke="#2e2e2e" stroke-width="1.0" />
<line x1="828.80" y1="188.72" x2="827.20" y2="188.72" stroke="#2e2e2e" stroke-width="1.0" />
<line x1="828.80" y1="155.78" x2="827.20" y2="155.78" stroke="#2e2e2e" stroke-width="1.0" />
<line x1="828.80" y1="139.31" x2="827.20" y2="139.31" stroke="#2e2e2e" stroke-width="1.0" />
<line x1="828.80" y1="122.84" x2="827.20" y2="122.84" stroke="#2e2e2e" stroke-width="1.0" />
<line x1="828.80" y1="106.37" x2="827.20" y2="106.37" stroke="#2e2e2e" stroke-width="1.0" />
<line x1="828.80" y1="73.43" x2="827.20" y2="73.43" stroke="#2e2e2e" stroke-width="1.0" />
<line x1="828.80" y1="56.96" x2="827.20" y2="56.96" stroke="#2e2e2e" stroke-width="1.0" />
<line x1="828.80" y1="40.49" x2="827.20" y2="40.49" stroke="#2e2e2e" stroke-width="1.0" />
<line x1="828.80" y1="24.02" x2="827.20" y2="24.02" stroke="#2e2e2e" stroke-width="1.0" />
<text x="56.30" y="219.58" font-size="15.6" text-anchor="end" font-weight="bold" style='font-family:"Liberation Sans", sans-serif' font-style="normal" fill="#000" stroke="#000" stroke-width="0.25">0.5</text>
<text x="56.30" y="179.38" font-size="15.6" text-anchor="end" font-weight="bold" style='font-family:"Liberation Sans", sans-serif' font-style="normal" fill="#000" stroke="#000" stroke-width="0.25">0.6</text>
<text x="56.30" y="139.18" font-size="15.6" text-anchor="end" font-weight="bold" style='font-family:"Liberation Sans", sans-serif' font-style="normal" fill="#000" stroke="#000" stroke-width="0.25">0.7</text>
<text x="56.30" y="98.98" font-size="15.6" text-anchor="end" font-weight="bold" style='font-family:"Liberation Sans", sans-serif' font-style="normal" fill="#000" stroke="#000" stroke-width="0.25">0.8</text>
<text x="56.30" y="58.78" font-size="15.6" text-anchor="end" font-weight="bold" style='font-family:"Liberation Sans", sans-serif' font-style="normal" fill="#000" stroke="#000" stroke-width="0.25">0.9</text>
<text x="56.30" y="18.58" font-size="15.6" text-anchor="end" font-weight="bold" style='font-family:"Liberation Sans", sans-serif' font-style="normal" fill="#000" stroke="#000" stroke-width="0.25">1.0</text>
<text x="56.30" y="474.08" font-size="15.6" text-anchor="end" font-weight="bold" style='font-family:"Liberation Sans", sans-serif' font-style="normal" fill="#000" stroke="#000" stroke-width="0.25">0</text>
<text x="56.30" y="430.22" font-size="15.6" text-anchor="end" font-weight="bold" style='font-family:"Liberation Sans", sans-serif' font-style="normal" fill="#000" stroke="#000" stroke-width="0.25">2</text>
<text x="56.30" y="386.36" font-size="15.6" text-anchor="end" font-weight="bold" style='font-family:"Liberation Sans", sans-serif' font-style="normal" fill="#000" stroke="#000" stroke-width="0.25">4</text>
<text x="56.30" y="342.50" font-size="15.6" text-anchor="end" font-weight="bold" style='font-family:"Liberation Sans", sans-serif' font-style="normal" fill="#000" stroke="#000" stroke-width="0.25">6</text>
<text x="56.30" y="298.64" font-size="15.6" text-anchor="end" font-weight="bold" style='font-family:"Liberation Sans", sans-serif' font-style="normal" fill="#000" stroke="#000" stroke-width="0.25">8</text>
<text x="56.30" y="254.78" font-size="15.6" text-anchor="end" font-weight="bold" style='font-family:"Liberation Sans", sans-serif' font-style="normal" fill="#000" stroke="#000" stroke-width="0.25">10</text>
<text x="58.30" y="486.00" font-size="15.6" text-anchor="middle" font-weight="bold" style='font-family:"Liberation Sans", sans-serif' font-style="normal" fill="#000" stroke="#000" stroke-width="0.25">−10</text>
<text x="89.40" y="486.00" font-size="15.6" text-anchor="middle" font-weight="bold" style='font-family:"Liberation Sans", sans-serif' font-style="normal" fill="#000" stroke="#000" stroke-width="0.25">−8</text>
<text x="120.50" y="486.00" font-size="15.6" text-anchor="middle" font-weight="bold" style='font-family:"Liberation Sans", sans-serif' font-style="normal" fill="#000" stroke="#000" stroke-width="0.25">−6</text>
<text x="151.60" y="486.00" font-size="15.6" text-anchor="middle" font-weight="bold" style='font-family:"Liberation Sans", sans-serif' font-style="normal" fill="#000" stroke="#000" stroke-width="0.25">−4</text>
<text x="182.70" y="486.00" font-size="15.6" text-anchor="middle" font-weight="bold" style='font-family:"Liberation Sans", sans-serif' font-style="normal" fill="#000" stroke="#000" stroke-width="0.25">−2</text>
<text x="213.30" y="486.00" font-size="15.6" text-anchor="middle" font-weight="bold" style='font-family:"Liberation Sans", sans-serif' font-style="normal" fill="#000" stroke="#000" stroke-width="0.25">0</text>
<text x="244.40" y="486.00" font-size="15.6" text-anchor="middle" font-weight="bold" style='font-family:"Liberation Sans", sans-serif' font-style="normal" fill="#000" stroke="#000" stroke-width="0.25">2</text>
<text x="275.50" y="486.00" font-size="15.6" text-anchor="middle" font-weight="bold" style='font-family:"Liberation Sans", sans-serif' font-style="normal" fill="#000" stroke="#000" stroke-width="0.25">4</text>
<text x="361.50" y="486.00" font-size="15.6" text-anchor="middle" font-weight="bold" style='font-family:"Liberation Sans", sans-serif' font-style="normal" fill="#000" stroke="#000" stroke-width="0.25">0</text>
<text x="437.20" y="486.00" font-size="15.6" text-anchor="middle" font-weight="bold" style='font-family:"Liberation Sans", sans-serif' font-style="normal" fill="#000" stroke="#000" stroke-width="0.25">2</text>
<text x="512.90" y="486.00" font-size="15.6" text-anchor="middle" font-weight="bold" style='font-family:"Liberation Sans", sans-serif' font-style="normal" fill="#000" stroke="#000" stroke-width="0.25">4</text>
<text x="588.60" y="486.00" font-size="15.6" text-anchor="middle" font-weight="bold" style='font-family:"Liberation Sans", sans-serif' font-style="normal" fill="#000" stroke="#000" stroke-width="0.25">6</text>
<text x="664.30" y="486.00" font-size="15.6" text-anchor="middle" font-weight="bold" style='font-family:"Liberation Sans", sans-serif' font-style="normal" fill="#000" stroke="#000" stroke-width="0.25">8</text>
<text x="740.00" y="486.00" font-size="15.6" text-anchor="middle" font-weight="bold" style='font-family:"Liberation Sans", sans-serif' font-style="normal" fill="#000" stroke="#000" stroke-width="0.25">10</text>
<text x="815.70" y="486.00" font-size="15.6" text-anchor="middle" font-weight="bold" style='font-family:"Liberation Sans", sans-serif' font-style="normal" fill="#000" stroke="#000" stroke-width="0.25">12</text>
<text x="358.90" y="424.88" font-size="15.6" text-anchor="end" font-weight="bold" style='font-family:"Liberation Sans", sans-serif' font-style="normal" fill="#000" stroke="#000" stroke-width="0.25">0.00</text>
<text x="358.90" y="342.53" font-size="15.6" text-anchor="end" font-weight="bold" style='font-family:"Liberation Sans", sans-serif' font-style="normal" fill="#000" stroke="#000" stroke-width="0.25">0.05</text>
<text x="358.90" y="260.18" font-size="15.6" text-anchor="end" font-weight="bold" style='font-family:"Liberation Sans", sans-serif' font-style="normal" fill="#000" stroke="#000" stroke-width="0.25">0.10</text>
<text x="358.90" y="177.83" font-size="15.6" text-anchor="end" font-weight="bold" style='font-family:"Liberation Sans", sans-serif' font-style="normal" fill="#000" stroke="#000" stroke-width="0.25">0.15</text>
<text x="358.90" y="95.48" font-size="15.6" text-anchor="end" font-weight="bold" style='font-family:"Liberation Sans", sans-serif' font-style="normal" fill="#000" stroke="#000" stroke-width="0.25">0.20</text>
<text x="358.90" y="13.13" font-size="15.6" text-anchor="end" font-weight="bold" style='font-family:"Liberation Sans", sans-serif' font-style="normal" fill="#000" stroke="#000" stroke-width="0.25">0.25</text>
<text x="62.30" y="26.50" font-size="24" text-anchor="start" font-weight="normal" style='font-family:"Liberation Sans", sans-serif' font-style="normal" fill="#000" >(a)</text>
<text x="62.30" y="260.40" font-size="24" text-anchor="start" font-weight="normal" style='font-family:"Liberation Sans", sans-serif' font-style="normal" fill="#000" >(b)</text>
<text x="369.80" y="31.90" font-size="24" text-anchor="start" font-weight="normal" style='font-family:"Liberation Sans", sans-serif' font-style="normal" fill="#000" >(c)</text>
<text x="134.20" y="513.00" fill="#1e1e1e" text-anchor="start" style='font-family:"Liberation Serif", serif'  textLength="13.6" lengthAdjust="spacingAndGlyphs" xml:space="preserve"><tspan font-size="27" font-style="italic" dy="0.00">x</tspan></text>
<text x="157.20" y="513.00" fill="#1e1e1e" text-anchor="start" style='font-family:"Liberation Serif", serif'  textLength="57.6" lengthAdjust="spacingAndGlyphs" xml:space="preserve"><tspan font-size="27" font-style="normal" dy="0.00">(mm)</tspan></text>
<text x="546.50" y="513.40" fill="#1e1e1e" text-anchor="start" style='font-family:"Liberation Serif", serif'  textLength="28.0" lengthAdjust="spacingAndGlyphs" xml:space="preserve"><tspan font-size="27" font-style="italic" dy="0.00">υ</tspan><tspan font-size="19" font-style="italic" dy="4.50">m</tspan></text>
<text x="584.00" y="513.40" fill="#1e1e1e" text-anchor="start" style='font-family:"Liberation Serif", serif'  textLength="58.4" lengthAdjust="spacingAndGlyphs" xml:space="preserve"><tspan font-size="27" font-style="normal" dy="0.00">(m</tspan><tspan font-size="36" font-style="normal" dy="4.60">/</tspan><tspan font-size="27" font-style="normal" dy="-4.60">s)</tspan></text>
<text x="24.50" y="146.00" fill="#1e1e1e" text-anchor="start" style='font-family:"Liberation Serif", serif' transform="rotate(-90 24.50 146.00)" textLength="57.0" lengthAdjust="spacingAndGlyphs" xml:space="preserve"><tspan font-size="27" font-style="italic" dy="0.00">A</tspan><tspan font-size="36" font-style="normal" dy="4.60">/</tspan><tspan font-size="27" font-style="italic" dy="-4.60">A</tspan><tspan font-size="18" font-style="normal" dy="4.50">0</tspan></text>
<text x="29.00" y="392.80" fill="#1e1e1e" text-anchor="start" style='font-family:"Liberation Serif", serif' transform="rotate(-90 29.00 392.80)" textLength="11.5" lengthAdjust="spacingAndGlyphs" xml:space="preserve"><tspan font-size="27" font-style="italic" dy="0.00">υ</tspan></text>
<text x="29.00" y="373.80" fill="#1e1e1e" text-anchor="start" style='font-family:"Liberation Serif", serif' transform="rotate(-90 29.00 373.80)" textLength="64.0" lengthAdjust="spacingAndGlyphs" xml:space="preserve"><tspan font-size="27" font-style="normal" dy="0.00">(m</tspan><tspan font-size="36" font-style="normal" dy="4.60">/</tspan><tspan font-size="27" font-style="normal" dy="-4.60">s)</tspan></text>
<text x="318.00" y="278.20" fill="#1e1e1e" text-anchor="start" style='font-family:"Liberation Serif", serif' transform="rotate(-90 318.00 278.20)" textLength="87.0" lengthAdjust="spacingAndGlyphs" xml:space="preserve"><tspan font-size="27" font-style="normal" dy="0.00">Δ</tspan><tspan font-size="27" font-style="italic" dy="0.00">A</tspan><tspan font-size="36" font-style="normal" dy="4.60">/</tspan><tspan font-size="27" font-style="italic" dy="-4.60">A</tspan><tspan font-size="19" font-style="normal" dy="4.50">∞</tspan></text>
<line x1="64.60" y1="293.50" x2="80.80" y2="293.50" stroke="#000" stroke-width="3.6" />
<text x="86.50" y="300.10" fill="#1e1e1e" text-anchor="start" style='font-family:"Liberation Serif", serif'  textLength="80.0" lengthAdjust="spacingAndGlyphs" xml:space="preserve"><tspan font-size="24.8" font-style="normal" dy="0.00">0.900</tspan><tspan font-size="24.8" font-style="italic" dy="0.00">c</tspan><tspan font-size="17.5" font-style="italic" dy="3.20">R</tspan></text>
<line x1="64.60" y1="316.80" x2="80.80" y2="316.80" stroke="#00a000" stroke-width="3.6" />
<text x="86.50" y="323.40" fill="#1e1e1e" text-anchor="start" style='font-family:"Liberation Serif", serif'  textLength="80.0" lengthAdjust="spacingAndGlyphs" xml:space="preserve"><tspan font-size="24.8" font-style="normal" dy="0.00">0.960</tspan><tspan font-size="24.8" font-style="italic" dy="0.00">c</tspan><tspan font-size="17.5" font-style="italic" dy="3.20">R</tspan></text>
<line x1="64.60" y1="340.10" x2="80.80" y2="340.10" stroke="#800080" stroke-width="3.6" />
<text x="86.50" y="346.70" fill="#1e1e1e" text-anchor="start" style='font-family:"Liberation Serif", serif'  textLength="80.0" lengthAdjust="spacingAndGlyphs" xml:space="preserve"><tspan font-size="24.8" font-style="normal" dy="0.00">0.985</tspan><tspan font-size="24.8" font-style="italic" dy="0.00">c</tspan><tspan font-size="17.5" font-style="italic" dy="3.20">R</tspan></text>
<line x1="64.60" y1="363.40" x2="80.80" y2="363.40" stroke="#ff0000" stroke-width="3.6" />
<text x="86.50" y="370.00" fill="#1e1e1e" text-anchor="start" style='font-family:"Liberation Serif", serif'  textLength="80.0" lengthAdjust="spacingAndGlyphs" xml:space="preserve"><tspan font-size="24.8" font-style="normal" dy="0.00">0.993</tspan><tspan font-size="24.8" font-style="italic" dy="0.00">c</tspan><tspan font-size="17.5" font-style="italic" dy="3.20">R</tspan></text>
<line x1="195.30" y1="246.30" x2="227.80" y2="246.30" stroke="#000" stroke-width="0.9" stroke-dasharray="2.4 1.1"/>
<text x="229.00" y="253.80" fill="#1e1e1e" text-anchor="start" style='font-family:"Liberation Serif", serif'  textLength="27.6" lengthAdjust="spacingAndGlyphs" xml:space="preserve"><tspan font-size="26.5" font-style="italic" dy="0.00">υ</tspan><tspan font-size="18.5" font-style="italic" dy="3.80">m</tspan></text>
<line x1="219.70" y1="446.20" x2="269.00" y2="446.20" stroke="#000" stroke-width="1.25" />
<polygon points="275.8,446.2 266.2,443.6 268.4,446.2 266.2,448.8" fill="#000"/>
<text x="246.00" y="440.00" fill="#1e1e1e" text-anchor="start" style='font-family:"Liberation Serif", serif'  textLength="11.2" lengthAdjust="spacingAndGlyphs" xml:space="preserve"><tspan font-size="27.5" font-style="italic" dy="0.00">c</tspan></text>
<clipPath id="cc"><rect x="361.3" y="1.0" width="468.1" height="467.6"/></clipPath>
<g clip-path="url(#cc)">
<rect x="805.5" y="45.8" width="9.0" height="9.0" fill="#ff0000"/>
<rect x="792.3" y="104.7" width="9.0" height="9.0" fill="#ff0000"/>
<rect x="779.4" y="151.2" width="9.0" height="9.0" fill="#ff0000"/>
<polygon points="708.0,127.7 714.7,121.5 721.4,127.7 714.7,133.9" fill="#ff0000"/>
<polygon points="714.3,153.3 721.0,147.1 727.7,153.3 721.0,159.5" fill="#ff0000"/>
<polygon points="670.7,165.1 677.4,158.9 684.1,165.1 677.4,171.3" fill="#ff0000"/>
<polygon points="653.3,182.0 660.0,175.8 666.7,182.0 660.0,188.2" fill="#ff0000"/>
<rect x="699.5" y="191.8" width="9.0" height="9.0" fill="#ff0000"/>
<polygon points="723.1,190.6 724.0,196.8 729.8,194.5 724.9,198.3 729.8,202.2 724.0,199.8 723.1,206.0 722.2,199.8 716.4,202.2 721.4,198.3 716.4,194.5 722.2,196.8" fill="#ff0000"/>
<polygon points="662.0,192.5 662.9,198.7 668.7,196.3 663.8,200.2 668.7,204.0 662.9,201.7 662.0,207.9 661.1,201.7 655.3,204.0 660.2,200.2 655.3,196.3 661.1,198.7" fill="#ff0000"/>
<polygon points="597.9,178.0 608.7,171.8 608.7,184.2" fill="#ff0000"/>
<polygon points="564.2,193.7 575.0,187.5 575.0,199.9" fill="#ff0000"/>
<polygon points="570.2,200.8 576.9,194.6 583.6,200.8 576.9,207.0" fill="#ff0000"/>
<circle cx="587.8" cy="206.8" r="6.5" fill="#ff0000"/>
<polygon points="583.6,212.2 585.5,217.8 591.4,217.9 586.6,221.4 588.4,227.0 583.6,223.6 578.8,227.0 580.6,221.4 575.8,217.9 581.7,217.8" fill="#ff0000"/>
<polygon points="544.6,229.8 555.4,223.6 555.4,236.0" fill="#ff0000"/>
<polygon points="601.5,221.9 608.2,215.7 614.9,221.9 608.2,228.1" fill="#ff0000"/>
<circle cx="598.3" cy="232.6" r="6.5" fill="#ff0000"/>
<polygon points="626.3,190.6 633.0,184.4 639.7,190.6 633.0,196.8" fill="#ff0000"/>
<polygon points="652.1,166.1 653.0,172.3 658.8,170.0 653.9,173.8 658.8,177.7 653.0,175.3 652.1,181.5 651.2,175.3 645.4,177.7 650.4,173.8 645.4,170.0 651.2,172.3" fill="#ff0000"/>
<polygon points="651.2,183.5 657.9,177.3 664.6,183.5 657.9,189.7" fill="#ff0000"/>
<polygon points="650.6,198.1 652.5,203.7 658.4,203.8 653.6,207.3 655.4,212.9 650.6,209.5 645.8,212.9 647.6,207.3 642.8,203.8 648.7,203.7" fill="#ff0000"/>
<polygon points="675.8,214.1 665.0,220.3 665.0,207.9" fill="#ff0000"/>
<polygon points="649.8,229.1 650.7,235.3 656.5,233.0 651.5,236.8 656.5,240.7 650.7,238.3 649.8,244.5 648.9,238.3 643.1,240.7 648.0,236.8 643.1,233.0 648.9,235.3" fill="#ff0000"/>
<polygon points="585.0,241.3 591.7,235.1 598.4,241.3 591.7,247.5" fill="#ff0000"/>
<polygon points="605.8,243.0 612.5,236.8 619.2,243.0 612.5,249.2" fill="#ff0000"/>
<polygon points="562.9,248.3 552.1,254.5 552.1,242.1" fill="#ff0000"/>
<polygon points="545.5,261.0 539.3,250.2 551.7,250.2" fill="#ff0000"/>
<polygon points="530.0,240.3 531.9,245.9 537.8,246.0 533.0,249.5 534.8,255.1 530.0,251.7 525.2,255.1 527.0,249.5 522.2,246.0 528.1,245.9" fill="#ff0000"/>
<polygon points="573.7,252.7 575.6,258.3 581.5,258.4 576.7,261.9 578.5,267.5 573.7,264.1 568.9,267.5 570.7,261.9 565.9,258.4 571.8,258.3" fill="#ff0000"/>
<polygon points="563.1,265.6 569.8,259.4 576.5,265.6 569.8,271.8" fill="#ff0000"/>
<polygon points="545.3,268.9 546.2,275.1 552.0,272.8 547.0,276.6 552.0,280.5 546.2,278.1 545.3,284.3 544.4,278.1 538.6,280.5 543.5,276.6 538.6,272.8 544.4,275.1" fill="#ff0000"/>
<circle cx="581.1" cy="279.1" r="6.5" fill="#ff0000"/>
<polygon points="597.3,273.4 604.0,267.2 610.7,273.4 604.0,279.6" fill="#ff0000"/>
<polygon points="552.1,296.2 558.8,290.0 565.5,296.2 558.8,302.4" fill="#ff0000"/>
<polygon points="576.5,288.0 578.4,293.6 584.3,293.7 579.5,297.2 581.3,302.8 576.5,299.4 571.7,302.8 573.5,297.2 568.7,293.7 574.6,293.6" fill="#ff0000"/>
<rect x="643.7" y="243.8" width="9.0" height="9.0" fill="#ff0000"/>
<polygon points="543.4,229.0 554.2,222.8 554.2,235.2" fill="#ff0000"/>
<polygon points="517.5,251.9 528.3,245.7 528.3,258.1" fill="#ff0000"/>
<rect x="467.1" y="288.4" width="9.0" height="9.0" fill="#ff0000"/>
<polygon points="517.8,274.8 524.0,285.6 511.6,285.6" fill="#ff0000"/>
<polygon points="524.9,294.6 518.7,283.8 531.1,283.8" fill="#ff0000"/>
<polygon points="531.8,284.8 542.6,278.6 542.6,291.0" fill="#ff0000"/>
<rect x="565.9" y="260.2" width="9.0" height="9.0" fill="#ff0000"/>
<polygon points="592.7,274.9 599.4,268.7 606.1,274.9 599.4,281.1" fill="#ff0000"/>
<circle cx="526.5" cy="304.4" r="6.5" fill="#ff0000"/>
<polygon points="504.5,303.8 510.7,314.6 498.3,314.6" fill="#ff0000"/>
<polygon points="514.5,310.2 525.3,304.0 525.3,316.4" fill="#ff0000"/>
<polygon points="541.4,320.5 535.2,309.7 547.6,309.7" fill="#ff0000"/>
<polygon points="539.1,322.7 528.3,328.9 528.3,316.5" fill="#ff0000"/>
<polygon points="494.0,317.3 495.9,322.9 501.8,323.0 497.0,326.5 498.8,332.1 494.0,328.7 489.2,332.1 491.0,326.5 486.2,323.0 492.1,322.9" fill="#ff0000"/>
<rect x="492.2" y="322.1" width="9.0" height="9.0" fill="#ff0000"/>
<polygon points="524.9,323.9 526.8,329.5 532.7,329.6 527.9,333.1 529.7,338.7 524.9,335.3 520.1,338.7 521.9,333.1 517.1,329.6 523.0,329.5" fill="#ff0000"/>
<rect x="516.5" y="333.1" width="9.0" height="9.0" fill="#ff0000"/>
<polygon points="553.2,333.2 554.1,339.4 559.9,337.0 555.0,340.9 559.9,344.8 554.1,342.4 553.2,348.6 552.3,342.4 546.5,344.8 551.5,340.9 546.5,337.0 552.3,339.4" fill="#ff0000"/>
<polygon points="512.3,344.8 519.0,338.6 525.7,344.8 519.0,351.0" fill="#ff0000"/>
<polygon points="522.1,357.5 515.9,346.7 528.3,346.7" fill="#ff0000"/>
<polygon points="508.4,358.1 515.1,351.9 521.8,358.1 515.1,364.3" fill="#ff0000"/>
<polygon points="510.0,365.2 516.7,359.0 523.4,365.2 516.7,371.4" fill="#ff0000"/>
<rect x="505.2" y="376.4" width="8.2" height="11.5" fill="#ff0000"/>
<polygon points="447.1,352.2 436.3,358.4 436.3,346.0" fill="#ff0000"/>
<polygon points="448.2,354.2 437.4,360.4 437.4,348.0" fill="#ff0000"/>
<circle cx="474.4" cy="355.4" r="6.5" fill="#ff0000"/>
<polygon points="469.7,352.2 471.6,357.8 477.5,357.9 472.7,361.4 474.5,367.0 469.7,363.6 464.9,367.0 466.7,361.4 461.9,357.9 467.8,357.8" fill="#ff0000"/>
<rect x="483.2" y="355.9" width="9.0" height="9.0" fill="#ff0000"/>
<polygon points="437.1,372.1 443.8,365.9 450.5,372.1 443.8,378.3" fill="#ff0000"/>
<polygon points="428.5,382.3 435.2,376.1 441.9,382.3 435.2,388.5" fill="#ff0000"/>
<polygon points="419.9,394.1 426.6,387.9 433.3,394.1 426.6,400.3" fill="#ff0000"/>
<polygon points="458.3,375.3 465.0,369.1 471.7,375.3 465.0,381.5" fill="#ff0000"/>
<polygon points="441.0,398.0 447.7,391.8 454.4,398.0 447.7,404.2" fill="#ff0000"/>
<polygon points="468.8,370.6 479.6,364.4 479.6,376.8" fill="#ff0000"/>
<polygon points="488.5,367.1 490.4,372.7 496.3,372.8 491.5,376.3 493.3,381.9 488.5,378.5 483.7,381.9 485.5,376.3 480.7,372.8 486.6,372.7" fill="#ff0000"/>
<polygon points="458.7,378.8 460.6,384.4 466.5,384.5 461.7,388.0 463.5,393.6 458.7,390.2 453.9,393.6 455.7,388.0 450.9,384.5 456.8,384.4" fill="#ff0000"/>
<rect x="469.1" y="390.7" width="9.0" height="9.0" fill="#ff0000"/>
<polygon points="506.9,359.6 513.6,353.4 520.3,359.6 513.6,365.8" fill="#ff0000"/>
<polygon points="463.9,399.4 470.1,410.2 457.7,410.2" fill="#ff0000"/>
<rect x="393.8" y="415.9" width="9.0" height="9.0" fill="#ff0000"/>
<rect x="398.3" y="418.5" width="9.0" height="9.0" fill="#ff0000"/>
<rect x="398.5" y="412.8" width="9.0" height="9.0" fill="#ff0000"/>
<rect x="403.3" y="408.7" width="9.0" height="9.0" fill="#ff0000"/>
<polygon points="406.5,407.4 413.2,401.2 419.9,407.4 413.2,413.6" fill="#ff0000"/>
<polygon points="411.8,402.5 418.5,396.3 425.2,402.5 418.5,408.7" fill="#ff0000"/>
<rect x="418.5" y="400.5" width="9.0" height="9.0" fill="#ff0000"/>
<polygon points="423.3,400.0 430.0,393.8 436.7,400.0 430.0,406.2" fill="#ff0000"/>
<polygon points="430.3,403.0 437.0,396.8 443.7,403.0 437.0,409.2" fill="#ff0000"/>
<rect x="436.5" y="403.5" width="9.0" height="9.0" fill="#ff0000"/>
<polygon points="439.3,406.0 446.0,399.8 452.7,406.0 446.0,412.2" fill="#ff0000"/>
<polygon points="433.0,403.3 433.9,409.5 439.7,407.1 434.8,411.0 439.7,414.9 433.9,412.5 433.0,418.7 432.1,412.5 426.3,414.9 431.2,411.0 426.3,407.1 432.1,409.5" fill="#ff0000"/>
<polygon points="444.0,406.3 444.9,412.5 450.7,410.1 445.8,414.0 450.7,417.9 444.9,415.5 444.0,421.7 443.1,415.5 437.3,417.9 442.2,414.0 437.3,410.1 443.1,412.5" fill="#ff0000"/>
<rect x="423.5" y="412.5" width="9.0" height="9.0" fill="#ff0000"/>
<polygon points="445.3,402.0 452.0,395.8 458.7,402.0 452.0,408.2" fill="#ff0000"/>
<rect x="431.5" y="393.5" width="9.0" height="9.0" fill="#ff0000"/>
<polygon points="433.3,391.0 440.0,384.8 446.7,391.0 440.0,397.2" fill="#ff0000"/>
<polygon points="449.5,410.8 455.7,421.6 443.3,421.6" fill="#ff0000"/>
<polygon points="456.0,403.8 457.9,409.4 463.8,409.5 459.0,413.0 460.8,418.6 456.0,415.2 451.2,418.6 453.0,413.0 448.2,409.5 454.1,409.4" fill="#ff0000"/>
<line x1="402.80" y1="419.90" x2="830.00" y2="44.60" stroke="#a60000" stroke-width="7.5" />
<polygon points="385.7,438.6 379.5,427.8 391.9,427.8" fill="#0000aa"/>
<polygon points="391.9,421.2 398.1,432.0 385.7,432.0" fill="#0000aa"/>
<polygon points="398.2,439.0 392.0,428.2 404.4,428.2" fill="#0000aa"/>
<polygon points="402.9,439.0 396.7,428.2 409.1,428.2" fill="#0000aa"/>
<polygon points="407.6,439.0 401.4,428.2 413.8,428.2" fill="#0000aa"/>
<rect x="418.0" y="410.9" width="9.0" height="9.0" fill="#0000aa"/>
<rect x="418.8" y="420.3" width="9.0" height="9.0" fill="#0000aa"/>
<polygon points="421.7,421.5 427.9,432.3 415.5,432.3" fill="#0000aa"/>
<rect x="410.9" y="421.8" width="9.0" height="9.0" fill="#0000aa"/>
<polygon points="412.0,421.3 418.2,432.1 405.8,432.1" fill="#0000aa"/>
<circle cx="435.8" cy="412.7" r="6.5" fill="#0000aa"/>
<circle cx="452.5" cy="410.4" r="6.5" fill="#0000aa"/>
<polygon points="438.9,420.7 445.1,431.5 432.7,431.5" fill="#0000aa"/>
<polygon points="436.1,439.6 442.8,433.4 449.5,439.6 442.8,445.8" fill="#0000aa"/>
<polygon points="422.5,453.7 429.2,447.5 435.9,453.7 429.2,459.9" fill="#0000aa"/>
<polygon points="451.4,426.2 457.6,437.0 445.2,437.0" fill="#0000aa"/>
<polygon points="453.3,434.2 460.0,428.0 466.7,434.2 460.0,440.4" fill="#0000aa"/>
<polygon points="467.1,439.8 460.9,429.0 473.3,429.0" fill="#0000aa"/>
<rect x="461.0" y="421.8" width="9.0" height="9.0" fill="#0000aa"/>
<rect x="472.0" y="417.1" width="9.0" height="9.0" fill="#0000aa"/>
<rect x="471.2" y="425.7" width="9.0" height="9.0" fill="#0000aa"/>
<polygon points="493.7,423.4 499.9,434.2 487.5,434.2" fill="#0000aa"/>
<rect x="490.9" y="421.3" width="9.0" height="9.0" fill="#0000aa"/>
<polygon points="501.7,449.2 495.5,438.4 507.9,438.4" fill="#0000aa"/>
<rect x="505.1" y="438.3" width="9.0" height="9.0" fill="#0000aa"/>
<rect x="513.7" y="430.4" width="9.0" height="9.0" fill="#0000aa"/>
<polygon points="521.3,434.6 527.5,445.4 515.1,445.4" fill="#0000aa"/>
<polygon points="526.5,446.2 520.3,435.4 532.7,435.4" fill="#0000aa"/>
<circle cx="524.5" cy="419.8" r="6.5" fill="#0000aa"/>
<rect x="521.2" y="410.9" width="9.0" height="9.0" fill="#0000aa"/>
<polygon points="535.6,427.1 524.8,433.3 524.8,420.9" fill="#0000aa"/>
<circle cx="525.2" cy="427.6" r="6.5" fill="#0000aa"/>
<rect x="534.1" y="399.4" width="8.2" height="11.5" fill="#0000aa"/>
<polygon points="543.3,434.3 537.1,423.5 549.5,423.5" fill="#0000aa"/>
<circle cx="557.3" cy="426.0" r="6.5" fill="#0000aa"/>
<rect x="550.5" y="428.1" width="9.0" height="9.0" fill="#0000aa"/>
<polygon points="562.0,446.1 555.8,435.3 568.2,435.3" fill="#0000aa"/>
<polygon points="564.0,427.1 570.7,420.9 577.4,427.1 570.7,433.3" fill="#0000aa"/>
<polygon points="576.1,437.4 569.9,426.6 582.3,426.6" fill="#0000aa"/>
<polygon points="580.5,436.4 586.7,447.2 574.3,447.2" fill="#0000aa"/>
<polygon points="586.3,433.2 592.5,444.0 580.1,444.0" fill="#0000aa"/>
<rect x="586.5" y="427.3" width="9.0" height="9.0" fill="#0000aa"/>
<circle cx="594.6" cy="422.1" r="6.5" fill="#0000aa"/>
<circle cx="607.5" cy="426.0" r="6.5" fill="#0000aa"/>
<circle cx="611.4" cy="415.9" r="6.5" fill="#0000aa"/>
<polygon points="607.2,432.4 613.4,443.2 601.0,443.2" fill="#0000aa"/>
<rect x="601.1" y="448.5" width="9.0" height="9.0" fill="#0000aa"/>
<circle cx="651.1" cy="422.0" r="6.5" fill="#0000aa"/>
<circle cx="675.5" cy="427.8" r="6.5" fill="#0000aa"/>
<polygon points="624.5,442.2 631.2,436.0 637.9,442.2 631.2,448.4" fill="#0000aa"/>
<rect x="674.4" y="439.5" width="9.0" height="9.0" fill="#0000aa"/>
<polygon points="696.9,442.2 703.6,436.0 710.3,442.2 703.6,448.4" fill="#0000aa"/>
<rect x="763.2" y="447.5" width="9.0" height="9.0" fill="#0000aa"/>
<rect x="769.8" y="448.3" width="9.0" height="9.0" fill="#0000aa"/>
<rect x="804.3" y="424.2" width="9.0" height="9.0" fill="#0000aa"/>
</g>
<line x1="361.30" y1="419.50" x2="828.80" y2="419.50" stroke="#000" stroke-width="1.25" />
<rect x="389.5" y="41.2" width="170.2" height="170.1" fill="#fff" stroke="#2e2e2e" stroke-width="1.3"/>
<clipPath id="ci"><rect x="389.5" y="41.2" width="170.8" height="170.1"/></clipPath>
<g clip-path="url(#ci)">
<path d="M389.7 162.6C391.0 163.1 394.9 165.0 397.5 165.3C400.1 165.6 402.8 164.1 405.4 164.2C408.0 164.3 410.6 165.1 413.2 166.1C415.8 167.1 418.2 169.1 421.1 170.0C424.0 170.9 427.6 170.8 430.5 171.6C433.4 172.4 435.8 174.0 438.3 174.7C440.8 175.3 442.8 174.4 445.4 175.5C448.0 176.6 451.6 178.8 454.0 181.0C456.4 183.2 457.4 186.7 459.5 188.8C461.6 190.9 464.0 191.7 466.5 193.5C469.0 195.3 472.0 198.1 474.4 199.8C476.8 201.5 478.9 202.7 480.7 203.7C482.5 204.7 484.0 205.5 485.4 205.6C486.8 205.7 488.0 205.9 489.3 204.5C490.6 203.1 491.9 200.7 493.2 197.4C494.5 194.1 495.8 189.9 497.1 184.9C498.4 179.9 499.8 173.6 501.0 167.6C502.2 161.6 503.3 154.3 504.2 148.8C505.1 143.3 505.8 140.4 506.5 134.7C507.2 129.0 507.4 121.4 508.2 114.5C509.0 107.6 510.1 99.3 511.1 93.4C512.1 87.5 512.9 83.5 514.0 79.1C515.1 74.6 516.5 69.9 517.8 66.7C519.1 63.5 520.0 61.9 521.6 60.0C523.2 58.1 525.2 56.4 527.4 55.2C529.6 54.0 531.8 53.5 535.0 52.9C538.2 52.3 542.4 52.0 546.5 51.4C550.6 50.8 557.7 49.8 559.9 49.5" fill="none" stroke="#ff0000" stroke-width="3.4" stroke-linejoin="round" stroke-linecap="butt" />
<path d="M389.7 157.4C390.5 157.8 392.6 158.9 394.4 159.8C396.2 160.7 398.3 162.1 400.7 162.9C403.1 163.7 405.8 164.9 408.5 164.8C411.2 164.8 414.6 162.3 417.1 162.6C419.6 162.9 420.9 166.0 423.4 166.4C425.9 166.8 429.4 165.0 432.0 164.8C434.6 164.6 437.0 165.5 439.1 165.3C441.2 165.1 442.8 163.8 444.6 163.7C446.4 163.6 448.3 165.1 450.1 164.8C451.9 164.5 453.4 162.9 455.6 162.1C457.8 161.3 460.8 160.3 463.4 159.8C466.0 159.3 468.6 159.7 471.2 159.0C473.8 158.3 476.5 156.7 479.1 155.9C481.7 155.1 484.5 155.6 486.9 154.3C489.2 153.0 491.1 149.8 493.2 148.0C495.3 146.2 497.7 145.0 499.5 143.3C501.3 141.6 502.8 140.1 504.2 137.8C505.6 135.6 507.0 133.7 508.2 129.8C509.4 125.9 510.1 120.9 511.1 114.5C512.1 108.1 513.2 98.5 514.0 91.5C514.8 84.5 515.3 77.5 515.9 72.4C516.5 67.3 517.1 63.9 517.8 60.9C518.5 57.9 519.0 55.9 520.1 54.3C521.2 52.7 522.0 51.9 524.5 51.4C527.0 50.9 531.3 51.2 535.0 51.0C538.7 50.8 542.4 50.6 546.5 50.4C550.6 50.2 557.7 50.0 559.9 49.9" fill="none" stroke="#0000aa" stroke-width="3.6" stroke-linejoin="round" stroke-linecap="butt" />
</g>
<line x1="389.70" y1="162.90" x2="485.40" y2="162.90" stroke="#000" stroke-width="1.9" stroke-dasharray="1.7 1.6"/>
<line x1="484.60" y1="166.00" x2="484.60" y2="201.00" stroke="#000" stroke-width="1.0" />
<polygon points="484.6,163.2 482.4,169.6 484.6,168.4 486.8,169.6" fill="#000"/>
<polygon points="484.6,204.6 482.4,198.2 484.6,199.4 486.8,198.2" fill="#000"/>
<text x="394.40" y="181.00" fill="#1e1e1e" text-anchor="start" style='font-family:"Liberation Serif", serif'  textLength="24.5" lengthAdjust="spacingAndGlyphs" xml:space="preserve"><tspan font-size="18.5" font-style="italic" dy="0.00">A</tspan><tspan font-size="14" font-style="normal" dy="2.50">∞</tspan></text>
<text x="460.30" y="188.80" fill="#1e1e1e" text-anchor="start" style='font-family:"Liberation Serif", serif'  textLength="23.5" lengthAdjust="spacingAndGlyphs" xml:space="preserve"><tspan font-size="16.5" font-style="normal" dy="0.00">Δ</tspan><tspan font-size="16.5" font-style="italic" dy="0.00">A</tspan></text>
<line x1="415.00" y1="41.20" x2="415.00" y2="43.60" stroke="#2e2e2e" stroke-width="1.0" />
<line x1="441.20" y1="41.20" x2="441.20" y2="43.60" stroke="#2e2e2e" stroke-width="1.0" />
<line x1="467.40" y1="41.20" x2="467.40" y2="43.60" stroke="#2e2e2e" stroke-width="1.0" />
<line x1="493.60" y1="41.20" x2="493.60" y2="43.60" stroke="#2e2e2e" stroke-width="1.0" />
<line x1="519.80" y1="41.20" x2="519.80" y2="43.60" stroke="#2e2e2e" stroke-width="1.0" />
<line x1="546.00" y1="41.20" x2="546.00" y2="43.60" stroke="#2e2e2e" stroke-width="1.0" />
<line x1="395.35" y1="41.20" x2="395.35" y2="42.70" stroke="#2e2e2e" stroke-width="1.0" />
<line x1="401.90" y1="41.20" x2="401.90" y2="42.70" stroke="#2e2e2e" stroke-width="1.0" />
<line x1="408.45" y1="41.20" x2="408.45" y2="42.70" stroke="#2e2e2e" stroke-width="1.0" />
<line x1="421.55" y1="41.20" x2="421.55" y2="42.70" stroke="#2e2e2e" stroke-width="1.0" />
<line x1="428.10" y1="41.20" x2="428.10" y2="42.70" stroke="#2e2e2e" stroke-width="1.0" />
<line x1="434.65" y1="41.20" x2="434.65" y2="42.70" stroke="#2e2e2e" stroke-width="1.0" />
<line x1="447.75" y1="41.20" x2="447.75" y2="42.70" stroke="#2e2e2e" stroke-width="1.0" />
<line x1="454.30" y1="41.20" x2="454.30" y2="42.70" stroke="#2e2e2e" stroke-width="1.0" />
<line x1="460.85" y1="41.20" x2="460.85" y2="42.70" stroke="#2e2e2e" stroke-width="1.0" />
<line x1="473.95" y1="41.20" x2="473.95" y2="42.70" stroke="#2e2e2e" stroke-width="1.0" />
<line x1="480.50" y1="41.20" x2="480.50" y2="42.70" stroke="#2e2e2e" stroke-width="1.0" />
<line x1="487.05" y1="41.20" x2="487.05" y2="42.70" stroke="#2e2e2e" stroke-width="1.0" />
<line x1="500.15" y1="41.20" x2="500.15" y2="42.70" stroke="#2e2e2e" stroke-width="1.0" />
<line x1="506.70" y1="41.20" x2="506.70" y2="42.70" stroke="#2e2e2e" stroke-width="1.0" />
<line x1="513.25" y1="41.20" x2="513.25" y2="42.70" stroke="#2e2e2e" stroke-width="1.0" />
<line x1="526.35" y1="41.20" x2="526.35" y2="42.70" stroke="#2e2e2e" stroke-width="1.0" />
<line x1="532.90" y1="41.20" x2="532.90" y2="42.70" stroke="#2e2e2e" stroke-width="1.0" />
<line x1="539.45" y1="41.20" x2="539.45" y2="42.70" stroke="#2e2e2e" stroke-width="1.0" />
<line x1="552.55" y1="41.20" x2="552.55" y2="42.70" stroke="#2e2e2e" stroke-width="1.0" />
<line x1="559.10" y1="41.20" x2="559.10" y2="42.70" stroke="#2e2e2e" stroke-width="1.0" />
<line x1="415.00" y1="211.30" x2="415.00" y2="208.90" stroke="#2e2e2e" stroke-width="1.0" />
<line x1="441.20" y1="211.30" x2="441.20" y2="208.90" stroke="#2e2e2e" stroke-width="1.0" />
<line x1="467.40" y1="211.30" x2="467.40" y2="208.90" stroke="#2e2e2e" stroke-width="1.0" />
<line x1="493.60" y1="211.30" x2="493.60" y2="208.90" stroke="#2e2e2e" stroke-width="1.0" />
<line x1="519.80" y1="211.30" x2="519.80" y2="208.90" stroke="#2e2e2e" stroke-width="1.0" />
<line x1="546.00" y1="211.30" x2="546.00" y2="208.90" stroke="#2e2e2e" stroke-width="1.0" />
<line x1="395.35" y1="211.30" x2="395.35" y2="209.80" stroke="#2e2e2e" stroke-width="1.0" />
<line x1="401.90" y1="211.30" x2="401.90" y2="209.80" stroke="#2e2e2e" stroke-width="1.0" />
<line x1="408.45" y1="211.30" x2="408.45" y2="209.80" stroke="#2e2e2e" stroke-width="1.0" />
<line x1="421.55" y1="211.30" x2="421.55" y2="209.80" stroke="#2e2e2e" stroke-width="1.0" />
<line x1="428.10" y1="211.30" x2="428.10" y2="209.80" stroke="#2e2e2e" stroke-width="1.0" />
<line x1="434.65" y1="211.30" x2="434.65" y2="209.80" stroke="#2e2e2e" stroke-width="1.0" />
<line x1="447.75" y1="211.30" x2="447.75" y2="209.80" stroke="#2e2e2e" stroke-width="1.0" />
<line x1="454.30" y1="211.30" x2="454.30" y2="209.80" stroke="#2e2e2e" stroke-width="1.0" />
<line x1="460.85" y1="211.30" x2="460.85" y2="209.80" stroke="#2e2e2e" stroke-width="1.0" />
<line x1="473.95" y1="211.30" x2="473.95" y2="209.80" stroke="#2e2e2e" stroke-width="1.0" />
<line x1="480.50" y1="211.30" x2="480.50" y2="209.80" stroke="#2e2e2e" stroke-width="1.0" />
<line x1="487.05" y1="211.30" x2="487.05" y2="209.80" stroke="#2e2e2e" stroke-width="1.0" />
<line x1="500.15" y1="211.30" x2="500.15" y2="209.80" stroke="#2e2e2e" stroke-width="1.0" />
<line x1="506.70" y1="211.30" x2="506.70" y2="209.80" stroke="#2e2e2e" stroke-width="1.0" />
<line x1="513.25" y1="211.30" x2="513.25" y2="209.80" stroke="#2e2e2e" stroke-width="1.0" />
<line x1="526.35" y1="211.30" x2="526.35" y2="209.80" stroke="#2e2e2e" stroke-width="1.0" />
<line x1="532.90" y1="211.30" x2="532.90" y2="209.80" stroke="#2e2e2e" stroke-width="1.0" />
<line x1="539.45" y1="211.30" x2="539.45" y2="209.80" stroke="#2e2e2e" stroke-width="1.0" />
<line x1="552.55" y1="211.30" x2="552.55" y2="209.80" stroke="#2e2e2e" stroke-width="1.0" />
<line x1="559.10" y1="211.30" x2="559.10" y2="209.80" stroke="#2e2e2e" stroke-width="1.0" />
<line x1="389.50" y1="196.30" x2="391.90" y2="196.30" stroke="#2e2e2e" stroke-width="1.0" />
<line x1="389.50" y1="167.00" x2="391.90" y2="167.00" stroke="#2e2e2e" stroke-width="1.0" />
<line x1="389.50" y1="137.70" x2="391.90" y2="137.70" stroke="#2e2e2e" stroke-width="1.0" />
<line x1="389.50" y1="108.40" x2="391.90" y2="108.40" stroke="#2e2e2e" stroke-width="1.0" />
<line x1="389.50" y1="79.10" x2="391.90" y2="79.10" stroke="#2e2e2e" stroke-width="1.0" />
<line x1="389.50" y1="49.80" x2="391.90" y2="49.80" stroke="#2e2e2e" stroke-width="1.0" />
<line x1="389.50" y1="208.02" x2="391.00" y2="208.02" stroke="#2e2e2e" stroke-width="1.0" />
<line x1="389.50" y1="202.16" x2="391.00" y2="202.16" stroke="#2e2e2e" stroke-width="1.0" />
<line x1="389.50" y1="190.44" x2="391.00" y2="190.44" stroke="#2e2e2e" stroke-width="1.0" />
<line x1="389.50" y1="184.58" x2="391.00" y2="184.58" stroke="#2e2e2e" stroke-width="1.0" />
<line x1="389.50" y1="178.72" x2="391.00" y2="178.72" stroke="#2e2e2e" stroke-width="1.0" />
<line x1="389.50" y1="172.86" x2="391.00" y2="172.86" stroke="#2e2e2e" stroke-width="1.0" />
<line x1="389.50" y1="161.14" x2="391.00" y2="161.14" stroke="#2e2e2e" stroke-width="1.0" />
<line x1="389.50" y1="155.28" x2="391.00" y2="155.28" stroke="#2e2e2e" stroke-width="1.0" />
<line x1="389.50" y1="149.42" x2="391.00" y2="149.42" stroke="#2e2e2e" stroke-width="1.0" />
<line x1="389.50" y1="143.56" x2="391.00" y2="143.56" stroke="#2e2e2e" stroke-width="1.0" />
<line x1="389.50" y1="131.84" x2="391.00" y2="131.84" stroke="#2e2e2e" stroke-width="1.0" />
<line x1="389.50" y1="125.98" x2="391.00" y2="125.98" stroke="#2e2e2e" stroke-width="1.0" />
<line x1="389.50" y1="120.12" x2="391.00" y2="120.12" stroke="#2e2e2e" stroke-width="1.0" />
<line x1="389.50" y1="114.26" x2="391.00" y2="114.26" stroke="#2e2e2e" stroke-width="1.0" />
<line x1="389.50" y1="102.54" x2="391.00" y2="102.54" stroke="#2e2e2e" stroke-width="1.0" />
<line x1="389.50" y1="96.68" x2="391.00" y2="96.68" stroke="#2e2e2e" stroke-width="1.0" />
<line x1="389.50" y1="90.82" x2="391.00" y2="90.82" stroke="#2e2e2e" stroke-width="1.0" />
<line x1="389.50" y1="84.96" x2="391.00" y2="84.96" stroke="#2e2e2e" stroke-width="1.0" />
<line x1="389.50" y1="73.24" x2="391.00" y2="73.24" stroke="#2e2e2e" stroke-width="1.0" />
<line x1="389.50" y1="67.38" x2="391.00" y2="67.38" stroke="#2e2e2e" stroke-width="1.0" />
<line x1="389.50" y1="61.52" x2="391.00" y2="61.52" stroke="#2e2e2e" stroke-width="1.0" />
<line x1="389.50" y1="55.66" x2="391.00" y2="55.66" stroke="#2e2e2e" stroke-width="1.0" />
<line x1="389.50" y1="43.94" x2="391.00" y2="43.94" stroke="#2e2e2e" stroke-width="1.0" />
<line x1="559.70" y1="196.30" x2="557.30" y2="196.30" stroke="#2e2e2e" stroke-width="1.0" />
<line x1="559.70" y1="167.00" x2="557.30" y2="167.00" stroke="#2e2e2e" stroke-width="1.0" />
<line x1="559.70" y1="137.70" x2="557.30" y2="137.70" stroke="#2e2e2e" stroke-width="1.0" />
<line x1="559.70" y1="108.40" x2="557.30" y2="108.40" stroke="#2e2e2e" stroke-width="1.0" />
<line x1="559.70" y1="79.10" x2="557.30" y2="79.10" stroke="#2e2e2e" stroke-width="1.0" />
<line x1="559.70" y1="49.80" x2="557.30" y2="49.80" stroke="#2e2e2e" stroke-width="1.0" />
<line x1="559.70" y1="208.02" x2="558.20" y2="208.02" stroke="#2e2e2e" stroke-width="1.0" />
<line x1="559.70" y1="202.16" x2="558.20" y2="202.16" stroke="#2e2e2e" stroke-width="1.0" />
<line x1="559.70" y1="190.44" x2="558.20" y2="190.44" stroke="#2e2e2e" stroke-width="1.0" />
<line x1="559.70" y1="184.58" x2="558.20" y2="184.58" stroke="#2e2e2e" stroke-width="1.0" />
<line x1="559.70" y1="178.72" x2="558.20" y2="178.72" stroke="#2e2e2e" stroke-width="1.0" />
<line x1="559.70" y1="172.86" x2="558.20" y2="172.86" stroke="#2e2e2e" stroke-width="1.0" />
<line x1="559.70" y1="161.14" x2="558.20" y2="161.14" stroke="#2e2e2e" stroke-width="1.0" />
<line x1="559.70" y1="155.28" x2="558.20" y2="155.28" stroke="#2e2e2e" stroke-width="1.0" />
<line x1="559.70" y1="149.42" x2="558.20" y2="149.42" stroke="#2e2e2e" stroke-width="1.0" />
<line x1="559.70" y1="143.56" x2="558.20" y2="143.56" stroke="#2e2e2e" stroke-width="1.0" />
<line x1="559.70" y1="131.84" x2="558.20" y2="131.84" stroke="#2e2e2e" stroke-width="1.0" />
<line x1="559.70" y1="125.98" x2="558.20" y2="125.98" stroke="#2e2e2e" stroke-width="1.0" />
<line x1="559.70" y1="120.12" x2="558.20" y2="120.12" stroke="#2e2e2e" stroke-width="1.0" />
<line x1="559.70" y1="114.26" x2="558.20" y2="114.26" stroke="#2e2e2e" stroke-width="1.0" />
<line x1="559.70" y1="102.54" x2="558.20" y2="102.54" stroke="#2e2e2e" stroke-width="1.0" />
<line x1="559.70" y1="96.68" x2="558.20" y2="96.68" stroke="#2e2e2e" stroke-width="1.0" />
<line x1="559.70" y1="90.82" x2="558.20" y2="90.82" stroke="#2e2e2e" stroke-width="1.0" />
<line x1="559.70" y1="84.96" x2="558.20" y2="84.96" stroke="#2e2e2e" stroke-width="1.0" />
<line x1="559.70" y1="73.24" x2="558.20" y2="73.24" stroke="#2e2e2e" stroke-width="1.0" />
<line x1="559.70" y1="67.38" x2="558.20" y2="67.38" stroke="#2e2e2e" stroke-width="1.0" />
<line x1="559.70" y1="61.52" x2="558.20" y2="61.52" stroke="#2e2e2e" stroke-width="1.0" />
<line x1="559.70" y1="55.66" x2="558.20" y2="55.66" stroke="#2e2e2e" stroke-width="1.0" />
<line x1="559.70" y1="43.94" x2="558.20" y2="43.94" stroke="#2e2e2e" stroke-width="1.0" />
<text x="387.30" y="201.88" font-size="15.6" text-anchor="end" font-weight="bold" style='font-family:"Liberation Sans", sans-serif' font-style="normal" fill="#000" stroke="#000" stroke-width="0.25">0.5</text>
<text x="387.30" y="172.58" font-size="15.6" text-anchor="end" font-weight="bold" style='font-family:"Liberation Sans", sans-serif' font-style="normal" fill="#000" stroke="#000" stroke-width="0.25">0.6</text>
<text x="387.30" y="143.28" font-size="15.6" text-anchor="end" font-weight="bold" style='font-family:"Liberation Sans", sans-serif' font-style="normal" fill="#000" stroke="#000" stroke-width="0.25">0.7</text>
<text x="387.30" y="113.98" font-size="15.6" text-anchor="end" font-weight="bold" style='font-family:"Liberation Sans", sans-serif' font-style="normal" fill="#000" stroke="#000" stroke-width="0.25">0.8</text>
<text x="387.30" y="84.68" font-size="15.6" text-anchor="end" font-weight="bold" style='font-family:"Liberation Sans", sans-serif' font-style="normal" fill="#000" stroke="#000" stroke-width="0.25">0.9</text>
<text x="387.30" y="55.38" font-size="15.6" text-anchor="end" font-weight="bold" style='font-family:"Liberation Sans", sans-serif' font-style="normal" fill="#000" stroke="#000" stroke-width="0.25">1.0</text>
<text x="415.00" y="228.50" font-size="15.6" text-anchor="middle" font-weight="bold" style='font-family:"Liberation Sans", sans-serif' font-style="normal" fill="#000" stroke="#000" stroke-width="0.25">−8</text>
<text x="441.20" y="228.50" font-size="15.6" text-anchor="middle" font-weight="bold" style='font-family:"Liberation Sans", sans-serif' font-style="normal" fill="#000" stroke="#000" stroke-width="0.25">−6</text>
<text x="467.40" y="228.50" font-size="15.6" text-anchor="middle" font-weight="bold" style='font-family:"Liberation Sans", sans-serif' font-style="normal" fill="#000" stroke="#000" stroke-width="0.25">−4</text>
<text x="493.60" y="228.50" font-size="15.6" text-anchor="middle" font-weight="bold" style='font-family:"Liberation Sans", sans-serif' font-style="normal" fill="#000" stroke="#000" stroke-width="0.25">−2</text>
<text x="519.80" y="228.50" font-size="15.6" text-anchor="middle" font-weight="bold" style='font-family:"Liberation Sans", sans-serif' font-style="normal" fill="#000" stroke="#000" stroke-width="0.25">0</text>
<text x="546.00" y="228.50" font-size="15.6" text-anchor="middle" font-weight="bold" style='font-family:"Liberation Sans", sans-serif' font-style="normal" fill="#000" stroke="#000" stroke-width="0.25">2</text>
<text x="453.30" y="34.70" fill="#1e1e1e" text-anchor="start" style='font-family:"Liberation Serif", serif'  textLength="43.0" lengthAdjust="spacingAndGlyphs" xml:space="preserve"><tspan font-size="19.5" font-style="italic" dy="0.00">A</tspan><tspan font-size="26" font-style="normal" dy="3.40">/</tspan><tspan font-size="19.5" font-style="italic" dy="-3.40">A</tspan><tspan font-size="13.5" font-style="normal" dy="3.00">0</tspan></text>
<text x="443.80" y="251.90" fill="#1e1e1e" text-anchor="start" style='font-family:"Liberation Serif", serif'  textLength="10.2" lengthAdjust="spacingAndGlyphs" xml:space="preserve"><tspan font-size="20.5" font-style="italic" dy="0.00">x</tspan></text>
<text x="461.60" y="251.90" fill="#1e1e1e" text-anchor="start" style='font-family:"Liberation Serif", serif'  textLength="43.6" lengthAdjust="spacingAndGlyphs" xml:space="preserve"><tspan font-size="20.5" font-style="normal" dy="0.00">(mm)</tspan></text>
</svg></body></html>
